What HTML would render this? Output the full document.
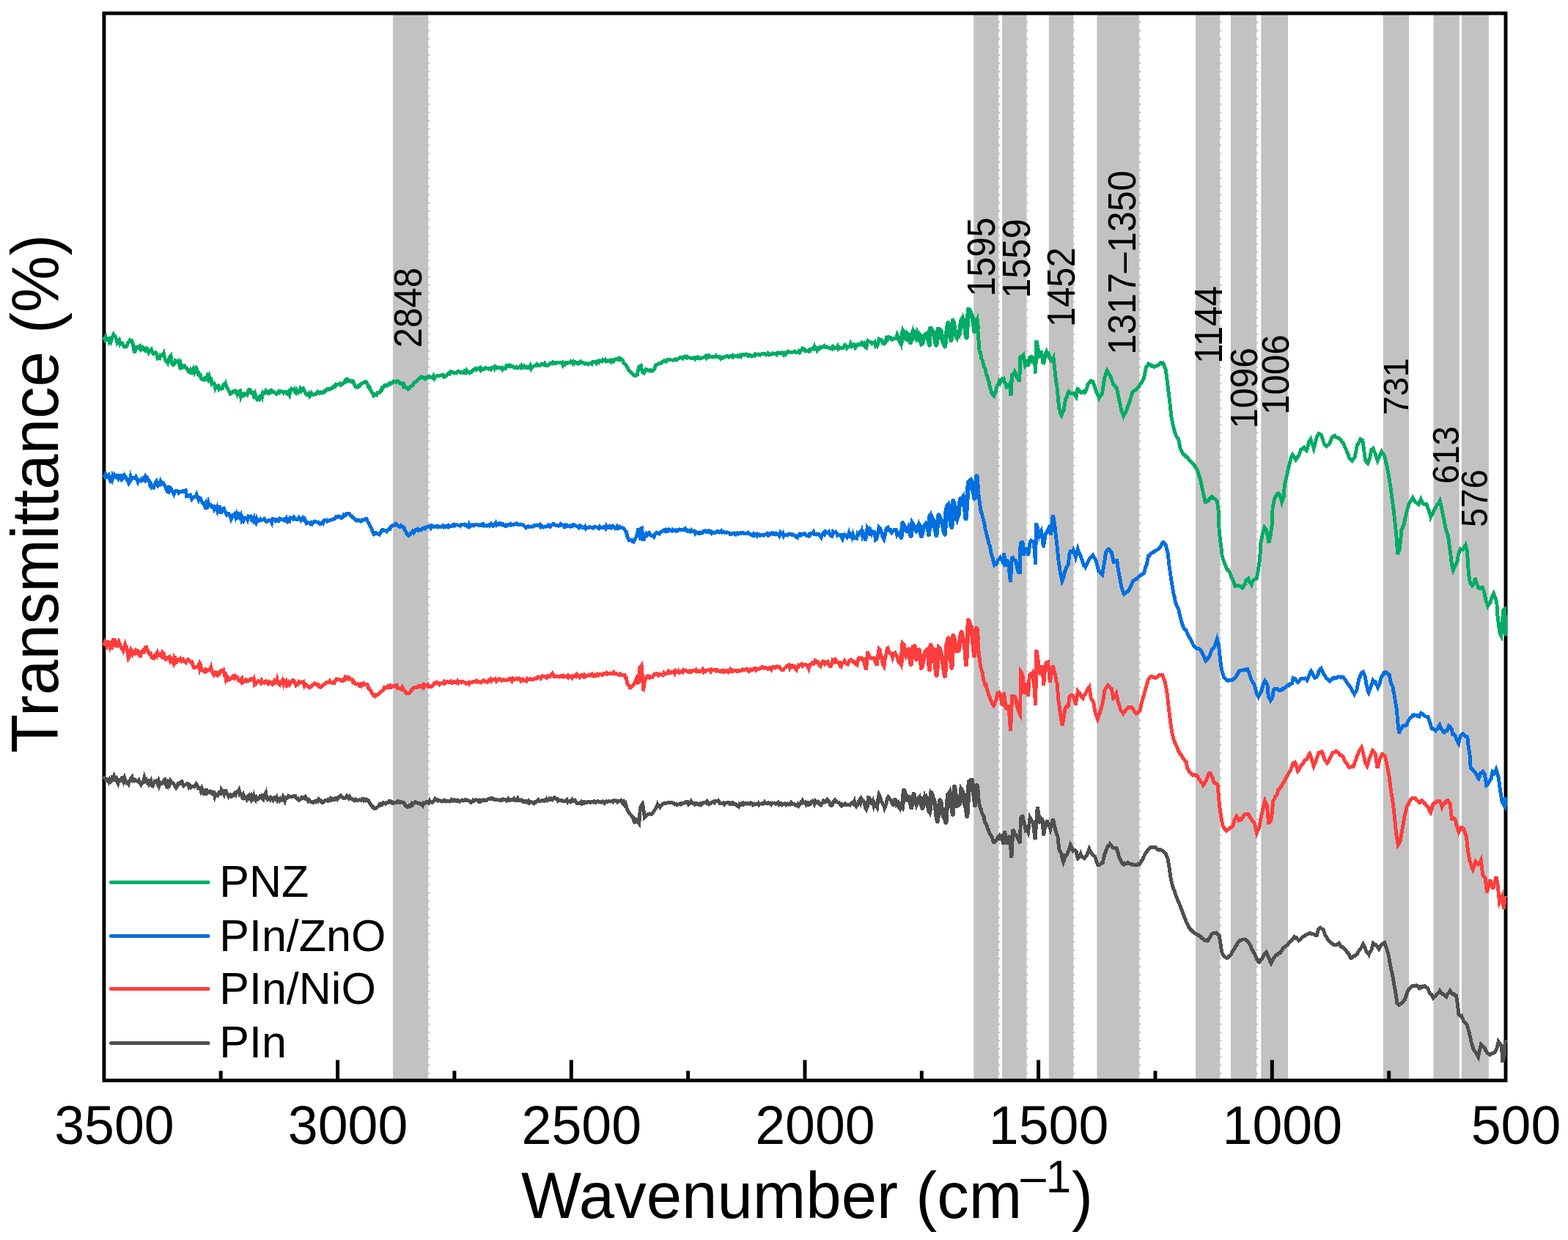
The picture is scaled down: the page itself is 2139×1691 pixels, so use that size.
<!DOCTYPE html>
<html lang="en">
<head>
<meta charset="utf-8">
<title>FTIR spectra</title>
<style>
html, body { margin: 0; padding: 0; background: #ffffff; }
body { width: 2139px; height: 1691px; overflow: hidden; }
svg { display: block; }
text { font-family: "Liberation Sans", sans-serif; fill: #000; }
.tick { font-size: 73.5px; }
.title { font-size: 87px; }
.leg { font-size: 61px; }
.bl { font-size: 47.2px; }
.curve { shape-rendering: crispEdges; fill: none; stroke-width: 4.9; stroke-linejoin: miter; stroke-miterlimit: 4; stroke-linecap: butt; }
</style>
</head>
<body>
<svg width="2139" height="1691" viewBox="0 0 2139 1691">
<rect x="0" y="0" width="2139" height="1691" fill="#ffffff"/>

<g fill="#c2c2c2">
<rect x="536.1" y="18.1" width="48.0" height="1455.3"/>
<rect x="1328.3" y="18.1" width="33.9" height="1455.3"/>
<rect x="1367.1" y="18.1" width="33.4" height="1455.3"/>
<rect x="1430.9" y="18.1" width="33.4" height="1455.3"/>
<rect x="1496.4" y="18.1" width="57.7" height="1455.3"/>
<rect x="1631.0" y="18.1" width="33.2" height="1455.3"/>
<rect x="1678.9" y="18.1" width="35.3" height="1455.3"/>
<rect x="1720.3" y="18.1" width="36.7" height="1455.3"/>
<rect x="1886.8" y="18.1" width="35.3" height="1455.3"/>
<rect x="1955.5" y="18.1" width="35.3" height="1455.3"/>
<rect x="1993.9" y="18.1" width="37.0" height="1455.3"/>
</g>
<g stroke="#c2c2c2" stroke-width="2" stroke-dasharray="2.4 8.8" fill="none">
<line x1="585.0" y1="29.1" x2="585.0" y2="1473.4"/>
<line x1="1363.1" y1="29.1" x2="1363.1" y2="1473.4"/>
<line x1="1401.4" y1="29.1" x2="1401.4" y2="1473.4"/>
<line x1="1465.2" y1="29.1" x2="1465.2" y2="1473.4"/>
<line x1="1555.0" y1="29.1" x2="1555.0" y2="1473.4"/>
<line x1="1665.1" y1="29.1" x2="1665.1" y2="1473.4"/>
<line x1="1715.1" y1="29.1" x2="1715.1" y2="1473.4"/>
</g>
<g stroke="#000" stroke-width="5" fill="none">
<line x1="1894.7" y1="1460.3" x2="1894.7" y2="1473.4"/>
<line x1="1735.3" y1="1445.5" x2="1735.3" y2="1473.4"/>
<line x1="1576.0" y1="1460.3" x2="1576.0" y2="1473.4"/>
<line x1="1416.6" y1="1445.5" x2="1416.6" y2="1473.4"/>
<line x1="1257.3" y1="1460.3" x2="1257.3" y2="1473.4"/>
<line x1="1098.0" y1="1445.5" x2="1098.0" y2="1473.4"/>
<line x1="938.6" y1="1460.3" x2="938.6" y2="1473.4"/>
<line x1="779.3" y1="1445.5" x2="779.3" y2="1473.4"/>
<line x1="619.9" y1="1460.3" x2="619.9" y2="1473.4"/>
<line x1="460.6" y1="1445.5" x2="460.6" y2="1473.4"/>
<line x1="301.2" y1="1460.3" x2="301.2" y2="1473.4"/>
</g>
<rect x="141.9" y="18.1" width="1912.1" height="1455.3" fill="none" stroke="#000" stroke-width="4.9"/>
<polyline class="curve" stroke="#4f4f4f" points="141.7,1058.3 142.9,1061.1 144.2,1063.1 145.5,1062.8 146.7,1064.2 148.1,1066.4 149.5,1063.1 150.9,1065.9 152.2,1064.2 153.5,1057.5 154.7,1065.5 156.0,1059.1 157.3,1061.9 158.5,1061.0 159.8,1065.9 161.0,1068.4 162.3,1063.6 163.6,1063.8 164.8,1064.4 166.1,1060.8 167.3,1060.5 168.6,1064.9 169.9,1060.9 171.1,1064.2 172.5,1067.7 173.9,1067.1 175.3,1069.2 176.5,1065.1 177.6,1064.6 178.7,1061.6 180.0,1059.7 181.2,1064.0 182.5,1063.0 183.8,1065.0 185.2,1064.0 186.6,1065.3 188.0,1065.9 189.4,1064.1 190.8,1068.0 192.2,1070.1 193.3,1067.8 194.4,1067.6 195.5,1065.9 196.9,1060.6 198.2,1064.9 199.6,1063.5 200.9,1067.1 202.3,1065.9 203.5,1069.3 204.6,1067.6 205.8,1065.2 207.0,1071.3 208.2,1071.8 209.6,1068.4 211.0,1065.5 212.4,1065.0 213.6,1064.8 214.9,1068.4 216.2,1065.2 217.4,1070.9 218.7,1067.5 219.9,1067.4 221.2,1068.3 222.5,1067.2 223.7,1064.4 225.0,1063.3 226.1,1066.1 227.2,1072.9 228.4,1073.4 229.8,1067.6 231.2,1069.9 232.6,1065.0 233.8,1067.2 235.1,1067.1 236.4,1068.4 237.6,1070.1 238.9,1072.4 240.1,1074.3 241.5,1072.2 242.9,1068.8 244.3,1069.2 245.5,1068.8 246.8,1066.0 248.0,1065.6 249.2,1069.6 250.4,1071.5 251.6,1070.2 252.8,1070.1 254.0,1069.6 255.3,1068.4 256.5,1069.1 257.8,1073.2 259.1,1071.5 260.3,1073.4 261.5,1072.3 262.7,1072.0 263.9,1072.6 265.0,1073.0 266.2,1070.9 267.6,1069.0 268.9,1071.1 270.3,1074.7 271.6,1073.9 273.0,1074.3 274.2,1078.5 275.5,1075.4 276.7,1078.5 278.0,1082.6 279.3,1082.5 280.5,1081.0 281.8,1075.9 283.1,1081.3 284.3,1080.5 285.6,1080.5 286.8,1078.9 288.1,1079.3 289.4,1082.3 290.6,1082.9 291.9,1079.0 293.2,1086.1 294.4,1083.1 295.7,1083.5 296.9,1084.6 298.2,1082.6 299.5,1078.5 300.7,1084.9 302.0,1076.8 303.3,1078.5 304.4,1079.8 305.6,1082.8 306.8,1078.4 308.0,1078.5 309.1,1080.2 310.5,1083.4 311.8,1086.0 313.2,1083.9 314.5,1083.5 315.9,1086.1 317.2,1085.2 318.6,1084.6 319.9,1082.2 321.3,1083.8 322.6,1080.2 323.8,1079.4 325.0,1080.3 326.1,1077.8 327.3,1083.6 328.5,1082.7 329.8,1083.3 331.2,1090.0 332.5,1084.8 333.9,1088.4 335.2,1087.7 336.4,1089.8 337.6,1086.2 338.8,1085.3 339.9,1091.4 341.1,1086.9 342.4,1089.8 343.6,1085.8 344.9,1088.5 346.2,1085.1 347.4,1089.3 348.7,1091.1 350.0,1087.9 351.2,1090.2 352.5,1089.9 353.7,1088.6 355.0,1085.2 356.3,1084.9 357.5,1089.0 358.8,1090.2 360.1,1084.5 361.3,1084.4 362.6,1081.5 363.8,1088.6 365.1,1090.3 366.4,1089.4 367.6,1088.3 368.8,1090.3 370.0,1088.2 371.2,1089.4 372.4,1090.8 373.6,1087.9 374.8,1087.7 376.0,1089.4 377.3,1087.3 378.6,1091.4 379.8,1089.8 381.1,1091.6 382.4,1089.4 383.6,1091.3 384.8,1091.0 386.0,1087.3 387.2,1090.3 388.4,1092.4 389.6,1088.0 390.8,1088.6 392.1,1088.3 393.5,1085.6 394.8,1086.2 396.2,1086.1 397.5,1086.9 398.8,1086.7 400.0,1085.8 401.3,1085.2 402.6,1085.2 403.8,1088.1 405.1,1089.3 406.3,1088.6 407.6,1091.1 408.9,1090.0 410.1,1089.8 411.4,1087.7 412.7,1088.6 414.0,1087.9 415.3,1088.7 416.7,1086.8 418.0,1089.6 419.4,1089.4 420.6,1092.2 421.7,1091.1 422.9,1092.6 424.1,1093.1 425.3,1093.6 426.6,1094.6 428.0,1094.2 429.3,1092.9 430.7,1093.7 432.0,1092.0 433.4,1092.8 434.8,1089.7 436.2,1091.1 437.6,1091.4 439.0,1094.2 440.4,1094.5 441.8,1093.4 443.2,1091.5 444.6,1091.1 445.9,1091.8 447.2,1090.6 448.4,1092.1 449.7,1091.9 450.9,1089.1 452.2,1090.7 453.5,1089.4 454.7,1090.3 456.1,1090.3 457.4,1088.3 458.8,1088.5 460.1,1089.9 461.5,1087.7 462.6,1086.5 463.7,1086.3 464.8,1085.2 466.2,1087.0 467.6,1087.6 469.0,1088.6 470.4,1088.3 471.8,1087.1 473.2,1085.2 474.6,1086.9 475.9,1088.9 477.3,1086.7 478.6,1089.0 480.0,1089.4 481.2,1090.5 482.5,1090.4 483.8,1091.6 485.0,1090.3 486.3,1091.8 487.5,1092.0 488.8,1091.0 490.1,1090.6 491.3,1091.1 492.6,1091.3 493.9,1089.4 495.1,1089.4 496.5,1091.6 497.9,1090.4 499.3,1091.4 500.0,1090.3 501.3,1091.2 502.5,1091.2 503.8,1094.0 505.0,1096.2 506.3,1097.9 507.6,1100.1 508.8,1099.9 510.1,1102.1 511.4,1102.1 512.6,1102.3 513.9,1101.4 515.1,1100.4 516.4,1099.2 517.7,1097.0 518.9,1098.0 520.2,1096.2 521.5,1096.8 522.9,1094.6 524.2,1095.1 525.6,1096.2 526.9,1095.3 528.2,1094.1 529.5,1094.3 530.7,1092.7 532.0,1092.5 533.3,1094.0 534.7,1093.5 536.0,1095.5 537.4,1094.9 538.7,1094.5 540.0,1094.8 541.2,1094.4 542.5,1092.6 543.8,1092.5 545.1,1094.4 546.5,1094.2 547.8,1093.5 549.1,1094.5 550.5,1094.5 551.8,1096.0 553.0,1098.6 554.3,1099.0 555.5,1100.4 556.8,1100.6 558.1,1098.7 559.3,1099.7 560.6,1098.7 561.8,1096.2 562.9,1097.4 564.1,1095.6 565.3,1094.4 566.5,1093.6 567.7,1093.9 569.0,1094.7 570.3,1095.8 571.5,1095.9 572.8,1095.6 574.1,1097.0 575.3,1097.3 576.5,1098.4 577.7,1095.3 578.9,1095.9 580.1,1095.0 581.3,1093.7 582.5,1094.5 583.7,1093.6 584.9,1094.9 586.1,1092.1 587.3,1093.8 588.5,1093.5 589.7,1094.4 590.9,1093.1 592.1,1092.4 593.4,1089.6 594.7,1090.7 595.9,1090.3 597.2,1092.1 598.5,1091.8 599.7,1091.5 601.0,1092.5 602.2,1092.8 603.5,1093.2 604.8,1092.7 606.0,1091.4 607.3,1092.4 608.6,1093.0 609.8,1092.0 611.1,1092.8 612.3,1092.4 613.5,1093.0 614.7,1092.2 615.9,1090.4 617.1,1091.3 618.3,1092.1 619.5,1090.8 620.7,1091.0 621.9,1092.2 623.1,1092.5 624.3,1091.4 625.5,1092.4 626.7,1093.3 627.9,1092.5 629.1,1091.9 630.3,1091.1 631.5,1091.9 632.7,1091.3 633.9,1091.7 635.1,1090.4 636.3,1090.8 637.6,1091.6 638.8,1091.7 640.1,1092.5 641.4,1093.6 642.7,1094.4 644.1,1093.2 645.4,1091.4 646.8,1092.4 648.1,1091.4 649.3,1090.6 650.5,1090.8 651.7,1091.3 652.9,1092.9 654.1,1091.6 655.3,1093.0 656.5,1092.5 657.7,1091.2 658.9,1091.8 660.1,1091.0 661.3,1091.6 662.5,1091.0 663.7,1091.2 664.9,1090.3 666.1,1089.6 667.3,1089.8 668.5,1089.2 669.7,1088.6 670.9,1089.5 672.1,1088.7 673.4,1089.1 674.6,1090.4 675.9,1090.4 677.1,1090.0 678.4,1090.3 679.7,1091.0 680.9,1091.1 682.2,1091.1 683.5,1090.5 684.7,1091.4 686.0,1090.0 687.2,1090.7 688.5,1090.8 689.8,1090.8 691.0,1092.2 692.3,1091.7 693.5,1089.6 694.8,1091.4 696.1,1091.4 697.3,1090.6 698.6,1091.1 699.9,1090.8 701.1,1089.1 702.4,1091.3 703.6,1091.4 704.9,1091.7 706.2,1089.3 707.4,1091.7 708.7,1091.4 710.0,1091.7 711.2,1090.8 712.5,1091.6 713.7,1093.5 715.0,1093.1 716.3,1092.5 717.5,1093.8 718.8,1093.1 720.0,1094.4 721.2,1092.7 722.4,1094.9 723.6,1093.6 724.8,1093.4 726.0,1094.3 727.2,1094.5 728.4,1095.6 729.6,1093.6 730.8,1094.0 732.0,1093.0 733.2,1092.0 734.4,1090.9 735.6,1092.5 736.8,1092.2 738.0,1092.3 739.2,1091.6 740.4,1091.8 741.6,1091.9 742.8,1092.4 744.0,1091.4 745.4,1089.6 746.7,1091.5 748.1,1090.6 749.4,1089.1 750.8,1090.3 752.2,1088.9 753.6,1090.3 755.0,1088.6 756.2,1087.6 757.5,1088.2 758.8,1089.6 760.0,1089.5 761.3,1092.0 762.6,1091.1 763.8,1091.8 765.0,1091.1 766.2,1091.3 767.4,1092.5 768.6,1092.5 769.8,1092.2 771.0,1092.8 772.2,1092.5 773.4,1090.9 774.6,1093.7 775.8,1092.2 777.0,1092.2 778.2,1093.4 779.4,1092.0 780.6,1090.3 781.9,1092.9 783.2,1093.0 784.4,1091.7 785.7,1093.7 787.0,1095.6 788.2,1095.7 789.5,1095.3 790.7,1094.7 791.9,1095.5 793.1,1093.6 794.3,1095.6 795.5,1094.2 796.7,1095.3 797.9,1093.6 799.2,1094.1 800.4,1094.7 801.7,1093.2 802.9,1093.3 804.2,1093.4 805.5,1094.3 806.7,1093.0 808.0,1093.1 809.3,1094.0 810.6,1092.8 811.9,1094.2 813.2,1094.1 814.5,1093.2 815.8,1092.6 817.2,1093.7 818.5,1094.2 819.8,1093.6 821.0,1094.1 822.3,1092.7 823.6,1093.4 824.8,1095.2 826.1,1094.0 827.3,1092.9 828.6,1093.4 829.9,1092.8 831.1,1092.8 832.4,1093.2 833.7,1093.0 834.9,1092.2 836.2,1093.2 837.4,1091.4 838.7,1091.4 840.0,1092.5 841.2,1092.0 842.4,1093.6 843.6,1092.4 844.8,1092.0 846.0,1092.4 847.2,1091.4 848.4,1093.1 849.6,1095.3 850.9,1093.6 852.2,1097.5 853.4,1096.2 854.7,1101.0 856.0,1104.6 857.1,1106.5 858.2,1108.5 859.3,1110.0 860.0,1110.5 861.1,1111.7 862.2,1113.0 863.4,1114.7 864.6,1119.7 865.9,1121.4 867.0,1121.0 868.1,1117.5 869.3,1118.0 870.5,1121.5 871.8,1123.1 873.5,1101.2 875.0,1098.3 876.5,1096.2 877.9,1104.0 879.4,1114.7 880.8,1113.6 882.2,1110.9 883.6,1110.5 884.7,1110.5 885.9,1109.9 887.1,1110.0 888.3,1110.4 889.5,1109.6 890.9,1108.0 892.3,1105.9 893.7,1103.7 894.8,1101.6 895.9,1100.4 897.0,1097.0 898.1,1099.1 899.3,1098.7 900.4,1100.4 901.7,1098.3 902.9,1098.0 904.2,1095.9 905.4,1095.3 906.7,1095.8 908.0,1095.0 909.2,1095.1 910.5,1094.9 911.8,1094.3 913.0,1094.1 914.3,1094.6 915.5,1094.5 916.9,1094.4 918.2,1095.5 919.5,1095.6 920.8,1097.0 922.2,1096.6 923.5,1097.9 924.8,1097.0 926.1,1096.9 927.4,1096.2 928.8,1097.2 930.1,1095.3 931.4,1095.4 932.7,1095.5 934.1,1094.8 935.3,1093.5 936.6,1094.3 937.8,1093.8 939.1,1096.4 940.4,1094.5 941.6,1095.0 942.9,1092.7 944.2,1094.5 945.4,1095.2 946.7,1095.1 947.9,1097.2 949.2,1096.9 950.5,1095.8 951.7,1097.0 953.0,1097.3 954.4,1096.1 955.7,1097.9 957.0,1096.9 958.3,1095.0 959.7,1094.6 961.0,1094.5 962.2,1093.9 963.4,1094.8 964.6,1093.0 965.8,1094.5 967.0,1096.6 968.2,1095.7 969.4,1095.8 970.7,1094.0 972.0,1093.8 973.4,1093.2 974.7,1094.6 976.0,1092.3 977.3,1092.2 978.7,1092.5 979.8,1091.7 981.0,1093.6 982.2,1095.8 983.4,1095.8 984.5,1095.8 985.8,1095.8 987.1,1095.0 988.3,1096.8 989.6,1095.1 990.9,1094.6 992.1,1094.9 993.4,1094.7 994.6,1094.8 995.8,1096.7 997.0,1096.5 998.2,1094.7 999.5,1094.5 1000.7,1096.3 1001.9,1096.4 1003.1,1096.2 1004.2,1097.9 1005.3,1098.7 1006.4,1099.2 1007.7,1100.2 1008.9,1096.6 1010.2,1097.3 1011.5,1095.8 1012.7,1096.7 1014.0,1095.0 1015.3,1096.6 1016.5,1095.7 1017.8,1095.6 1019.0,1096.4 1020.3,1095.5 1021.6,1096.2 1022.9,1096.1 1024.3,1094.7 1025.6,1095.7 1027.0,1097.6 1028.3,1097.0 1029.5,1096.1 1030.8,1097.0 1032.0,1096.8 1033.2,1096.9 1034.4,1095.4 1035.6,1097.5 1036.9,1096.0 1038.1,1096.0 1039.3,1095.9 1040.5,1096.4 1041.8,1095.8 1043.1,1093.8 1044.4,1095.6 1045.7,1095.4 1047.0,1095.9 1048.3,1094.7 1049.6,1095.2 1050.9,1095.0 1052.2,1097.0 1053.5,1095.3 1054.9,1094.9 1056.2,1095.1 1057.5,1095.6 1058.8,1096.6 1060.1,1095.3 1061.4,1094.3 1062.7,1097.1 1064.0,1095.9 1065.3,1095.8 1066.7,1097.4 1068.0,1096.2 1069.4,1096.4 1070.7,1095.8 1072.1,1097.5 1073.3,1096.7 1074.5,1096.1 1075.7,1097.2 1076.9,1096.4 1078.1,1097.0 1079.3,1094.9 1080.5,1096.5 1081.8,1095.9 1083.2,1096.4 1084.5,1097.4 1085.9,1098.7 1087.2,1098.7 1088.5,1096.7 1089.7,1098.8 1091.0,1097.0 1092.3,1094.5 1093.5,1095.1 1094.7,1092.3 1095.9,1095.0 1097.1,1095.0 1098.3,1094.2 1099.5,1096.7 1100.7,1094.5 1101.8,1094.5 1102.9,1097.6 1104.0,1097.5 1105.2,1096.7 1106.3,1094.8 1107.4,1093.1 1108.6,1092.3 1109.8,1093.2 1111.0,1096.0 1112.2,1092.7 1113.4,1094.3 1114.6,1093.3 1115.8,1093.1 1117.2,1096.1 1118.6,1095.5 1120.0,1097.5 1121.2,1095.5 1122.3,1094.7 1123.4,1092.0 1124.7,1092.7 1125.9,1093.9 1127.2,1093.1 1128.4,1090.6 1129.7,1092.0 1131.0,1093.1 1132.1,1096.3 1133.2,1098.4 1134.3,1098.7 1135.5,1097.6 1136.6,1094.2 1137.7,1092.5 1139.0,1090.9 1140.4,1093.2 1141.7,1093.3 1143.1,1094.3 1144.4,1094.5 1145.6,1095.4 1146.7,1097.9 1147.8,1098.7 1149.1,1096.7 1150.3,1097.2 1151.6,1097.2 1152.8,1096.2 1154.1,1097.8 1155.4,1097.6 1156.6,1097.5 1157.9,1097.5 1159.2,1098.1 1160.4,1096.3 1161.7,1094.9 1162.9,1094.5 1164.2,1096.1 1165.5,1092.9 1166.7,1098.1 1168.0,1099.5 1169.1,1097.1 1170.2,1097.1 1171.4,1093.1 1172.7,1090.7 1174.1,1094.3 1175.4,1089.6 1176.7,1091.9 1178.1,1092.5 1179.3,1095.3 1180.6,1101.8 1181.8,1103.7 1183.1,1100.3 1184.5,1087.7 1185.7,1088.0 1187.0,1089.9 1188.2,1095.3 1189.5,1095.6 1190.7,1092.8 1192.0,1098.7 1193.2,1095.3 1194.4,1097.5 1195.5,1098.1 1196.6,1100.4 1197.9,1089.4 1199.1,1083.5 1200.5,1086.3 1201.9,1092.1 1203.3,1094.5 1204.5,1097.0 1205.6,1098.0 1206.7,1102.1 1208.0,1099.0 1209.2,1095.3 1210.5,1088.8 1211.8,1086.9 1213.2,1088.6 1214.6,1090.2 1216.0,1092.8 1217.1,1096.0 1218.2,1097.3 1219.3,1095.3 1220.0,1090.5 1221.3,1090.4 1222.5,1096.5 1223.8,1094.6 1225.0,1093.9 1226.2,1099.8 1227.4,1101.8 1228.6,1096.0 1229.8,1101.3 1230.9,1102.3 1232.0,1088.5 1233.1,1077.9 1234.4,1081.9 1235.6,1084.2 1236.8,1090.5 1238.0,1090.7 1239.1,1087.1 1240.2,1087.1 1241.7,1091.6 1243.2,1101.4 1244.3,1090.8 1245.5,1088.0 1246.6,1082.9 1247.8,1089.1 1249.1,1091.4 1250.3,1097.2 1251.7,1092.9 1253.1,1089.3 1254.5,1087.1 1255.8,1091.9 1257.1,1097.9 1258.4,1102.3 1259.8,1093.0 1261.2,1087.1 1262.6,1092.0 1264.0,1088.2 1265.4,1092.2 1266.9,1104.4 1268.3,1107.3 1270.0,1081.2 1271.3,1082.8 1272.6,1088.1 1273.9,1090.5 1275.1,1094.3 1276.4,1102.7 1277.6,1113.6 1278.9,1120.0 1280.0,1107.9 1281.2,1104.5 1282.3,1091.3 1283.7,1095.6 1285.1,1106.9 1286.5,1110.7 1287.8,1115.3 1289.1,1116.4 1290.4,1121.6 1291.8,1098.1 1293.2,1083.8 1294.5,1083.2 1295.7,1080.4 1297.1,1092.0 1298.5,1101.2 1299.9,1110.7 1301.0,1091.5 1302.0,1072.8 1303.3,1081.6 1304.5,1092.3 1305.8,1098.9 1307.0,1098.2 1308.1,1097.1 1309.2,1095.6 1310.2,1090.1 1311.2,1076.2 1312.5,1078.4 1313.8,1082.7 1315.1,1083.8 1316.5,1098.2 1317.9,1103.0 1319.3,1113.2 1320.6,1090.1 1321.8,1066.1 1323.2,1065.4 1324.6,1063.6 1326.0,1063.6 1327.4,1078.9 1328.8,1086.1 1330.2,1098.1 1331.5,1083.4 1332.8,1071.1 1333.9,1075.2 1335.0,1089.9 1336.1,1097.2 1337.3,1102.6 1338.4,1103.5 1339.5,1109.0 1340.8,1111.4 1342.0,1112.6 1343.3,1121.0 1344.5,1122.5 1345.8,1124.7 1347.1,1129.4 1348.3,1131.4 1349.6,1136.0 1350.9,1137.8 1352.3,1140.2 1353.6,1142.2 1355.0,1148.3 1356.3,1148.6 1357.6,1147.9 1358.8,1146.7 1360.1,1144.9 1361.4,1141.9 1362.6,1143.0 1363.9,1140.1 1365.2,1142.4 1366.4,1141.0 1367.7,1147.0 1368.9,1152.0 1370.6,1133.4 1371.8,1139.8 1372.9,1144.5 1374.0,1151.1 1375.1,1145.6 1376.2,1142.2 1377.4,1139.3 1378.6,1154.3 1379.9,1169.6 1380.9,1149.9 1381.9,1130.9 1383.1,1133.9 1384.3,1137.2 1385.4,1137.8 1386.6,1139.3 1387.8,1142.1 1389.0,1144.6 1390.2,1145.2 1391.3,1150.3 1392.5,1115.8 1393.8,1113.5 1395.0,1113.2 1396.4,1119.9 1397.8,1123.9 1399.2,1131.8 1400.4,1130.4 1401.5,1131.5 1402.6,1134.3 1403.9,1124.5 1405.1,1114.9 1406.5,1117.1 1407.9,1119.7 1409.3,1122.5 1410.8,1135.0 1412.2,1145.2 1413.7,1121.3 1415.2,1100.6 1416.4,1107.5 1417.5,1113.3 1418.6,1120.8 1419.7,1120.3 1420.8,1116.4 1422.0,1117.4 1423.6,1139.3 1424.9,1131.4 1426.2,1123.3 1427.3,1121.7 1428.4,1124.1 1429.5,1122.5 1430.7,1125.9 1431.8,1127.2 1432.9,1130.9 1434.1,1126.1 1435.4,1120.5 1436.6,1116.6 1438.1,1124.4 1439.6,1130.9 1440.8,1135.6 1441.9,1138.4 1443.0,1141.0 1444.7,1157.8 1445.8,1160.8 1446.9,1161.9 1448.1,1164.6 1449.3,1171.7 1450.6,1175.5 1452.0,1171.4 1453.4,1166.6 1454.8,1166.3 1455.9,1164.7 1457.0,1161.8 1458.1,1159.5 1459.2,1155.6 1460.3,1152.0 1461.6,1154.2 1462.8,1157.7 1464.0,1160.4 1465.4,1159.3 1466.8,1159.6 1468.2,1161.2 1469.3,1167.5 1470.3,1170.5 1471.6,1169.4 1472.8,1167.3 1474.1,1164.6 1475.4,1168.2 1476.7,1168.5 1477.9,1169.6 1479.2,1170.5 1480.3,1169.1 1481.4,1167.4 1482.6,1166.3 1483.7,1163.4 1484.8,1160.8 1485.9,1157.8 1487.0,1160.5 1488.2,1162.2 1489.3,1164.6 1490.7,1165.5 1492.1,1166.7 1493.5,1167.9 1494.9,1171.4 1496.3,1176.3 1497.7,1179.7 1499.0,1179.7 1500.4,1179.1 1501.7,1177.9 1503.1,1176.7 1504.4,1176.4 1505.7,1169.9 1507.0,1164.6 1508.1,1162.8 1509.2,1159.0 1510.3,1156.2 1511.6,1153.5 1512.9,1153.3 1514.2,1151.1 1515.3,1152.9 1516.5,1153.8 1517.6,1155.4 1518.7,1156.2 1520.1,1156.6 1521.5,1156.0 1522.9,1156.2 1524.1,1159.8 1525.2,1163.1 1526.3,1167.9 1527.6,1170.9 1528.8,1173.6 1530.1,1175.2 1531.4,1178.0 1532.6,1178.8 1533.8,1177.2 1535.0,1178.1 1536.2,1177.7 1537.4,1177.7 1538.6,1176.2 1539.8,1177.2 1541.0,1177.6 1542.2,1178.7 1543.4,1179.1 1544.6,1178.6 1545.8,1179.4 1547.0,1179.6 1548.2,1179.7 1549.4,1179.5 1550.5,1179.9 1551.7,1179.8 1552.9,1178.2 1554.1,1178.9 1555.5,1177.0 1556.9,1174.5 1558.3,1173.0 1559.6,1169.7 1560.8,1167.5 1562.1,1164.6 1563.3,1162.9 1564.6,1161.1 1565.9,1158.9 1567.1,1157.9 1568.4,1156.2 1569.7,1155.4 1571.1,1155.9 1572.4,1155.8 1573.8,1155.6 1575.1,1155.3 1576.5,1155.5 1577.9,1157.6 1579.3,1158.4 1581.0,1159.3 1582.3,1158.4 1583.5,1159.1 1584.7,1159.9 1585.9,1160.0 1587.3,1161.6 1588.8,1162.8 1590.2,1164.2 1591.6,1167.9 1593.0,1170.5 1594.0,1177.3 1595.1,1183.1 1596.1,1190.6 1597.2,1198.5 1598.6,1203.9 1600.0,1209.8 1601.1,1212.5 1602.3,1215.5 1603.5,1219.6 1604.9,1223.1 1606.3,1226.7 1607.7,1229.4 1608.9,1232.5 1610.0,1235.7 1611.2,1239.2 1612.4,1241.7 1613.5,1245.0 1614.7,1247.6 1615.9,1250.9 1617.0,1253.1 1618.2,1257.4 1619.4,1259.6 1620.5,1261.2 1621.7,1264.4 1623.1,1265.6 1624.5,1268.3 1625.9,1268.7 1627.3,1270.9 1628.7,1271.9 1630.1,1272.9 1631.5,1273.3 1632.9,1274.1 1634.3,1275.2 1635.7,1275.7 1637.1,1277.5 1638.5,1277.6 1639.9,1279.9 1641.1,1280.4 1642.3,1281.6 1643.5,1282.7 1644.7,1282.3 1645.9,1282.9 1647.1,1281.6 1648.4,1282.0 1649.5,1279.2 1650.7,1278.4 1651.9,1275.7 1653.3,1273.5 1654.7,1272.9 1655.9,1272.8 1657.1,1272.5 1658.4,1272.9 1659.6,1272.2 1660.7,1273.3 1661.9,1275.0 1663.1,1275.7 1664.1,1281.6 1665.2,1288.3 1666.6,1298.1 1668.0,1301.1 1669.4,1303.7 1670.8,1304.4 1672.2,1305.7 1673.6,1306.5 1675.0,1306.1 1676.4,1303.9 1677.8,1303.7 1679.2,1302.1 1680.6,1298.3 1682.0,1296.7 1683.4,1294.4 1684.8,1291.8 1686.2,1289.7 1687.4,1288.3 1688.6,1285.4 1689.7,1284.1 1691.0,1282.9 1692.2,1282.9 1693.4,1281.9 1694.6,1281.3 1696.0,1281.0 1697.4,1280.9 1698.8,1281.3 1700.1,1282.2 1701.3,1283.7 1702.5,1284.2 1703.8,1285.5 1704.9,1288.1 1706.1,1290.0 1707.3,1293.9 1708.7,1295.9 1710.1,1299.0 1711.5,1300.9 1712.9,1304.1 1714.3,1307.9 1715.4,1308.6 1716.6,1311.6 1717.8,1312.1 1719.0,1310.6 1720.1,1309.3 1721.3,1307.9 1722.5,1305.5 1723.6,1303.6 1724.8,1300.9 1726.2,1300.3 1727.6,1298.8 1729.0,1302.1 1730.4,1305.1 1731.6,1307.4 1732.7,1311.5 1733.9,1313.5 1735.1,1311.2 1736.3,1308.6 1737.4,1306.5 1738.8,1305.1 1740.2,1302.8 1741.6,1302.3 1742.9,1301.7 1744.1,1300.1 1745.3,1299.7 1746.5,1299.5 1747.9,1297.3 1749.3,1295.0 1750.7,1292.5 1752.1,1291.9 1753.5,1290.6 1755.0,1289.5 1756.4,1288.3 1757.8,1286.5 1759.2,1284.9 1760.6,1283.7 1762.0,1282.7 1763.1,1281.0 1764.3,1279.8 1765.5,1277.8 1766.9,1279.1 1768.3,1278.5 1769.4,1280.1 1770.6,1281.0 1771.8,1282.7 1773.2,1281.7 1774.6,1280.1 1776.0,1278.5 1777.4,1277.6 1778.8,1277.1 1780.2,1276.0 1781.6,1275.0 1783.0,1274.5 1784.4,1273.5 1785.8,1272.6 1787.2,1272.2 1788.6,1273.8 1790.0,1273.9 1791.4,1273.7 1792.8,1274.3 1794.0,1274.9 1795.2,1275.7 1796.3,1275.7 1797.4,1272.0 1798.4,1267.2 1799.8,1266.2 1801.2,1265.1 1802.4,1266.0 1803.6,1267.1 1804.7,1267.2 1806.1,1270.1 1807.5,1274.3 1808.7,1277.2 1809.9,1278.3 1811.1,1281.3 1812.5,1282.3 1813.9,1284.1 1815.3,1285.5 1816.7,1286.7 1818.1,1287.2 1819.5,1289.0 1820.9,1289.0 1822.3,1288.4 1823.7,1288.3 1825.1,1287.3 1826.5,1286.2 1827.9,1288.5 1829.3,1291.1 1830.7,1291.2 1832.1,1292.0 1833.5,1293.9 1834.9,1295.2 1836.3,1296.3 1837.7,1298.6 1839.1,1299.5 1840.3,1301.5 1841.4,1304.4 1842.6,1306.5 1843.8,1306.3 1845.1,1305.5 1846.3,1304.1 1847.5,1303.7 1848.9,1303.4 1850.3,1301.7 1851.7,1300.9 1853.1,1297.4 1854.5,1295.9 1855.9,1293.9 1857.1,1292.0 1858.3,1289.4 1859.4,1287.6 1860.8,1290.5 1862.2,1292.9 1863.6,1296.5 1864.8,1299.0 1866.0,1299.5 1867.3,1301.7 1868.5,1298.3 1869.7,1297.6 1871.0,1295.1 1872.1,1290.9 1873.2,1286.2 1874.4,1287.0 1875.7,1288.1 1876.9,1288.4 1878.3,1290.3 1879.6,1292.2 1881.0,1294.3 1882.4,1291.7 1883.7,1289.6 1885.0,1287.7 1886.3,1287.4 1887.5,1286.0 1888.7,1285.4 1890.2,1290.0 1891.7,1293.6 1893.2,1299.1 1894.6,1303.9 1895.7,1311.3 1896.9,1317.2 1898.3,1324.4 1899.8,1330.5 1900.9,1337.2 1902.0,1343.8 1903.1,1349.8 1904.2,1355.7 1905.7,1367.5 1907.2,1369.2 1908.7,1370.4 1909.8,1369.7 1910.9,1368.9 1912.0,1367.6 1913.1,1366.8 1914.3,1365.5 1915.6,1363.6 1916.8,1363.1 1917.9,1358.9 1919.0,1355.7 1920.1,1352.3 1921.2,1349.8 1922.5,1348.5 1923.8,1346.7 1925.1,1345.7 1926.4,1344.6 1927.7,1344.6 1929.0,1344.5 1930.3,1344.7 1931.6,1343.8 1932.8,1344.1 1934.0,1344.8 1935.1,1345.4 1936.3,1347.8 1937.5,1347.5 1938.7,1345.9 1939.9,1346.4 1941.1,1345.0 1942.2,1345.2 1943.4,1344.6 1944.5,1345.3 1945.6,1346.6 1946.8,1347.1 1947.9,1348.3 1949.1,1351.2 1950.3,1354.2 1951.6,1355.7 1952.8,1356.2 1954.0,1358.1 1955.3,1360.8 1956.6,1359.7 1957.8,1359.0 1959.1,1357.2 1960.4,1355.7 1961.7,1353.9 1962.9,1353.5 1964.1,1351.2 1965.2,1352.8 1966.3,1354.1 1967.5,1355.6 1968.6,1355.7 1969.7,1356.8 1970.8,1357.2 1971.9,1358.5 1973.0,1359.4 1974.3,1356.2 1975.6,1354.8 1976.9,1353.8 1978.2,1351.2 1979.4,1352.9 1980.6,1354.6 1981.9,1355.7 1983.0,1356.1 1984.1,1355.7 1985.2,1356.9 1986.3,1357.1 1987.4,1363.0 1988.5,1370.4 1990.0,1383.8 1991.2,1384.3 1992.5,1385.5 1993.7,1385.2 1995.2,1389.1 1996.7,1392.6 1997.8,1393.7 1998.9,1394.8 2000.0,1396.0 2001.1,1397.1 2002.6,1402.7 2004.1,1407.4 2005.5,1414.1 2007.0,1420.7 2008.5,1425.7 2010.0,1431.1 2011.2,1433.0 2012.4,1433.8 2013.7,1435.5 2015.1,1438.6 2016.6,1441.4 2017.9,1434.6 2019.1,1430.1 2020.3,1424.4 2021.6,1425.6 2022.9,1427.2 2024.2,1428.3 2025.5,1429.6 2027.0,1433.1 2028.5,1435.5 2029.6,1436.4 2030.7,1437.3 2031.8,1438.1 2032.9,1438.5 2034.1,1437.1 2035.3,1436.8 2036.4,1436.5 2037.6,1436.0 2038.8,1435.5 2040.3,1432.6 2041.8,1429.6 2042.9,1425.3 2044.0,1420.7 2045.1,1422.7 2046.2,1423.3 2047.3,1425.1 2048.4,1426.6 2049.9,1448.8 2051.0,1443.5 2052.1,1439.9 2053.3,1417.8"/>
<polyline class="curve" stroke="#4f4f4f" style="stroke-width:6.2;stroke-linejoin:round" points="1225.0,1093.9 1226.2,1099.8 1227.4,1101.8 1228.6,1096.0 1229.8,1101.3 1230.9,1102.3 1232.0,1088.5 1233.1,1077.9 1234.4,1081.9 1235.6,1084.2 1236.8,1090.5 1238.0,1090.7 1239.1,1087.1 1240.2,1087.1 1241.7,1091.6 1243.2,1101.4 1244.3,1090.8 1245.5,1088.0 1246.6,1082.9 1247.8,1089.1 1249.1,1091.4 1250.3,1097.2 1251.7,1092.9 1253.1,1089.3 1254.5,1087.1 1255.8,1091.9 1257.1,1097.9 1258.4,1102.3 1259.8,1093.0 1261.2,1087.1 1262.6,1092.0 1264.0,1088.2 1265.4,1092.2 1266.9,1104.4 1268.3,1107.3 1270.0,1081.2 1271.3,1082.8 1272.6,1088.1 1273.9,1090.5 1275.1,1094.3 1276.4,1102.7 1277.6,1113.6 1278.9,1120.0 1280.0,1107.9 1281.2,1104.5 1282.3,1091.3 1283.7,1095.6 1285.1,1106.9 1286.5,1110.7 1287.8,1115.3 1289.1,1116.4 1290.4,1121.6 1291.8,1098.1 1293.2,1083.8 1294.5,1083.2 1295.7,1080.4 1297.1,1092.0 1298.5,1101.2 1299.9,1110.7 1301.0,1091.5 1302.0,1072.8 1303.3,1081.6 1304.5,1092.3 1305.8,1098.9 1307.0,1098.2 1308.1,1097.1 1309.2,1095.6 1310.2,1090.1 1311.2,1076.2 1312.5,1078.4 1313.8,1082.7 1315.1,1083.8 1316.5,1098.2 1317.9,1103.0 1319.3,1113.2 1320.6,1090.1 1321.8,1066.1 1323.2,1065.4 1324.6,1063.6 1326.0,1063.6 1327.4,1078.9 1328.8,1086.1 1330.2,1098.1 1331.5,1083.4 1332.8,1071.1 1333.9,1075.2"/>
<polyline class="curve" stroke="#ff3d3d" points="141.7,880.8 142.9,876.6 144.0,879.0 145.2,880.8 146.4,873.5 147.6,878.3 148.8,877.4 150.1,882.5 151.4,879.6 152.6,885.9 153.7,877.3 154.8,870.7 156.0,875.2 157.3,874.6 158.5,880.8 159.8,881.0 161.0,880.0 162.3,875.8 163.6,879.1 164.7,882.2 165.8,884.2 166.9,884.2 168.1,887.0 169.3,883.3 170.5,879.1 171.6,882.6 172.8,882.5 174.1,890.2 175.3,897.6 176.5,895.6 177.6,889.9 178.7,885.9 180.0,887.9 181.2,891.8 182.5,889.6 183.8,890.9 185.0,887.8 186.3,889.8 187.5,887.8 188.8,889.2 190.1,891.4 191.3,896.0 192.5,891.2 193.6,888.8 194.7,887.5 196.0,891.6 197.2,885.6 198.5,882.9 199.7,882.8 201.0,887.1 202.3,888.4 203.5,891.6 204.6,892.7 205.8,891.9 207.0,896.8 208.2,897.6 209.6,897.9 211.0,894.5 212.4,892.6 213.7,894.8 215.1,890.4 216.4,893.3 217.8,892.5 219.1,894.3 220.5,895.8 221.9,889.7 223.3,890.9 224.7,897.8 226.1,899.3 227.5,898.5 228.6,896.9 229.8,896.6 230.9,896.0 232.3,901.3 233.7,899.2 235.1,902.7 236.4,904.8 237.6,898.4 238.9,902.1 240.1,899.3 241.3,901.9 242.5,900.1 243.7,899.6 244.9,900.2 246.0,898.5 247.3,901.3 248.6,899.5 249.8,898.9 251.1,901.6 252.3,902.0 253.6,903.5 255.0,901.0 256.4,899.7 257.8,901.0 259.2,902.7 260.6,902.6 262.0,902.7 263.3,908.3 264.5,910.3 265.9,910.5 267.2,909.6 268.6,909.4 269.9,908.8 271.3,906.1 272.5,912.3 273.8,908.5 275.1,913.2 276.3,914.5 277.6,915.2 278.8,916.0 280.1,913.4 281.4,915.3 282.6,913.6 283.9,914.3 285.2,913.6 286.4,913.6 287.8,910.2 289.1,915.8 290.5,918.1 291.8,920.3 293.2,917.8 294.3,919.3 295.5,918.0 296.7,920.1 297.9,917.9 299.0,918.7 300.2,915.5 301.4,914.8 302.6,915.0 303.8,916.1 304.9,914.5 306.1,919.5 307.2,919.1 308.3,926.3 309.6,923.3 311.0,926.8 312.3,925.1 313.7,926.5 315.0,925.4 316.2,924.6 317.4,922.5 318.6,924.1 319.7,925.1 320.9,922.1 322.3,923.5 323.7,923.6 325.1,927.1 326.3,928.4 327.5,929.2 328.7,926.3 329.9,925.0 331.1,930.6 332.3,929.7 333.5,927.9 334.8,927.0 336.1,928.7 337.3,927.7 338.6,928.9 339.9,927.7 341.1,927.7 342.4,925.7 343.6,926.3 344.9,927.2 346.2,925.4 347.4,933.8 348.7,933.0 349.8,930.2 350.9,930.0 352.1,928.8 353.3,928.9 354.5,929.0 355.7,930.9 356.9,928.3 358.1,930.9 359.3,930.5 360.5,931.3 361.7,929.4 363.0,928.8 364.3,930.1 365.5,932.0 366.8,930.1 368.1,931.6 369.3,930.9 370.6,930.8 371.8,933.2 373.1,932.8 374.4,929.0 375.6,930.5 376.8,930.4 378.0,926.7 379.2,931.8 380.4,932.4 381.6,933.6 382.8,930.7 384.0,931.0 385.3,928.1 386.6,932.5 387.8,928.5 389.1,929.6 390.2,928.5 391.3,934.4 392.5,933.0 393.7,930.8 394.9,933.4 396.1,931.1 397.3,929.7 398.5,929.4 399.7,927.6 400.9,927.9 402.3,931.1 403.7,934.2 405.1,933.0 406.3,933.1 407.6,930.1 408.9,931.4 410.1,930.2 411.4,930.9 412.7,930.5 413.9,929.9 415.2,935.0 416.4,932.9 417.7,933.8 418.9,935.4 420.1,936.1 421.2,936.0 422.4,937.8 423.6,937.2 424.9,936.0 426.3,933.9 427.6,933.6 429.0,931.7 430.3,932.2 431.7,933.7 433.0,934.1 434.4,933.8 435.7,936.6 437.1,937.2 438.3,936.7 439.6,935.3 440.8,934.5 442.1,933.3 443.4,932.5 444.6,931.3 445.9,930.4 447.2,930.6 448.4,930.6 449.7,928.8 450.9,930.7 452.2,931.0 453.5,931.3 454.7,930.5 456.1,931.2 457.4,928.5 458.8,926.2 460.1,926.7 461.5,926.3 462.6,926.7 463.8,927.1 465.0,927.5 466.2,928.5 467.3,928.3 468.6,926.8 469.9,927.1 471.1,923.5 472.4,924.6 473.8,923.5 475.2,925.8 476.6,924.6 477.8,925.8 479.0,926.8 480.2,926.5 481.4,930.2 482.6,929.2 483.8,931.1 485.0,933.0 486.3,933.1 487.5,933.0 488.8,932.7 490.1,934.7 491.3,933.7 492.5,935.3 493.7,932.8 494.9,933.6 496.1,932.0 497.3,933.9 498.5,933.8 500.0,933.8 501.3,933.7 502.5,938.3 503.8,938.9 505.0,941.4 506.3,942.8 507.6,945.7 508.8,947.1 510.1,949.0 511.4,949.7 512.6,947.9 513.9,948.4 515.1,947.3 516.4,946.4 517.7,944.9 518.9,944.5 520.2,943.1 521.5,941.9 522.9,941.3 524.2,937.8 525.6,938.3 526.9,937.2 528.3,937.3 529.6,935.7 531.0,936.9 532.3,935.1 533.7,937.2 534.9,936.6 536.2,935.3 537.4,935.2 538.7,934.7 539.9,935.8 541.1,934.9 542.2,938.2 543.4,938.4 544.6,938.9 546.0,939.2 547.4,939.8 548.8,937.2 550.1,939.9 551.3,941.3 552.6,942.9 553.9,944.8 555.1,945.7 556.4,945.5 557.6,945.9 558.9,944.8 560.2,943.0 561.4,940.8 562.7,939.9 564.0,938.0 565.2,937.8 566.4,937.5 567.6,937.6 568.8,937.2 570.0,935.9 571.2,935.3 572.4,936.4 573.6,935.6 574.8,935.4 576.0,937.0 577.2,934.4 578.4,936.4 579.6,933.9 580.8,934.3 582.1,934.8 583.5,933.7 584.8,936.2 586.2,935.6 587.5,936.4 588.9,936.4 590.2,935.1 591.6,933.5 592.9,931.1 594.2,931.3 595.6,930.2 596.9,931.5 598.3,931.7 599.6,933.4 601.0,932.2 602.2,931.5 603.5,931.1 604.8,931.8 606.0,929.7 607.3,931.8 608.6,930.4 609.8,929.9 611.1,929.6 612.4,930.4 613.8,930.5 615.1,929.3 616.5,931.4 617.8,931.0 619.1,929.5 620.3,930.0 621.6,930.5 622.9,931.1 624.1,929.0 625.4,931.1 626.6,929.5 627.9,929.6 629.3,930.6 630.6,929.3 631.9,929.6 633.3,930.5 634.6,931.0 635.8,932.3 637.0,931.8 638.2,931.6 639.5,932.8 640.7,930.1 641.9,930.4 643.1,930.5 644.4,930.8 645.8,929.1 647.1,929.4 648.4,929.1 649.8,928.3 651.1,930.2 652.3,929.7 653.6,929.9 654.8,930.5 656.1,931.0 657.4,929.2 658.6,928.3 659.9,927.9 661.1,929.2 662.2,929.6 663.4,929.3 664.6,930.0 665.8,928.8 667.0,927.4 668.1,928.3 669.3,926.4 670.5,928.3 671.7,926.3 673.0,926.1 674.4,926.7 675.7,925.8 677.1,928.8 678.4,927.1 679.7,927.5 680.9,925.9 682.2,926.5 683.5,926.5 684.7,928.1 686.0,927.7 687.2,926.7 688.5,927.1 689.7,927.6 690.9,927.9 692.1,927.2 693.3,926.9 694.5,925.1 695.7,925.1 696.9,926.3 698.2,928.3 699.4,924.9 700.7,925.4 702.0,926.9 703.2,926.4 704.5,925.2 705.8,926.3 707.0,925.9 708.2,925.2 709.4,926.1 710.6,928.5 711.8,927.4 713.0,926.4 714.2,928.2 715.4,927.9 716.7,928.0 718.0,928.7 719.2,925.7 720.5,926.9 721.7,926.9 723.0,925.8 724.3,926.7 725.5,926.3 726.9,926.4 728.2,926.1 729.6,925.0 730.9,925.6 732.3,924.9 733.6,923.2 735.0,924.0 736.3,923.7 737.6,925.1 739.0,922.9 740.3,921.9 741.7,922.4 743.0,922.5 744.4,923.3 745.7,924.2 747.1,921.6 748.4,922.3 749.8,922.9 751.1,920.9 752.5,920.4 753.7,918.5 754.9,920.5 756.1,922.5 757.3,922.5 758.5,921.9 759.7,922.1 760.9,922.1 762.2,922.4 763.5,923.0 764.8,921.9 766.1,921.8 767.4,922.8 768.7,921.6 770.0,922.8 771.3,922.2 772.7,922.6 773.9,921.7 775.1,923.6 776.3,921.7 777.5,922.5 778.8,922.8 780.0,924.2 781.2,921.8 782.4,922.4 783.7,922.2 784.9,920.7 786.1,922.1 787.3,920.0 788.6,921.7 789.8,921.5 791.0,923.4 792.2,921.9 793.5,920.5 794.7,920.7 795.9,922.5 797.1,920.6 798.4,922.5 799.6,921.5 800.9,921.4 802.2,921.3 803.5,920.3 804.8,921.2 806.1,920.2 807.4,919.2 808.7,921.1 810.1,922.0 811.4,920.4 812.6,921.4 813.8,919.9 815.0,919.3 816.2,920.9 817.4,919.8 818.6,919.6 819.8,919.9 821.0,920.3 822.3,920.3 823.6,918.6 824.8,918.8 826.1,918.8 827.3,917.8 828.6,919.3 829.9,918.7 831.1,918.8 832.4,918.9 833.7,918.0 834.9,918.7 836.2,918.2 837.4,917.0 838.7,918.8 840.0,918.2 841.2,918.8 842.5,920.0 843.8,920.1 845.0,920.4 846.2,919.2 847.4,920.5 848.6,920.4 849.7,920.3 850.9,920.4 852.0,920.6 853.2,924.2 854.3,924.6 856.0,933.0 857.1,933.6 858.2,935.0 859.3,937.7 860.0,938.0 861.3,937.2 862.5,935.3 863.8,933.8 865.0,933.0 866.2,929.6 867.3,928.5 868.4,925.4 869.7,928.2 870.9,933.0 872.6,910.3 873.9,909.5 875.1,907.7 876.4,922.9 877.7,942.3 879.4,927.9 880.5,926.3 881.6,924.6 882.7,922.1 883.9,921.9 885.1,923.0 886.3,924.2 887.4,923.0 888.6,923.7 890.0,923.6 891.3,921.9 892.7,919.6 894.0,919.6 895.3,918.7 896.7,918.9 898.0,920.9 899.4,919.2 900.7,919.7 902.1,920.4 903.3,919.9 904.5,920.5 905.7,917.8 906.9,919.2 908.1,918.2 909.3,918.7 910.5,917.0 911.7,915.7 912.9,917.5 914.2,916.7 915.4,917.4 916.6,916.5 917.8,916.0 919.1,915.8 920.3,918.2 921.5,915.4 922.7,917.0 924.0,917.0 925.2,915.2 926.4,917.5 927.6,917.2 928.9,915.8 930.1,915.5 931.3,916.7 932.5,913.9 933.7,914.9 935.0,914.1 936.2,914.9 937.4,915.3 938.6,916.1 939.9,916.1 941.1,915.0 942.3,916.4 943.5,915.6 944.8,914.6 946.0,914.4 947.2,915.0 948.4,915.1 949.7,913.7 950.9,915.8 952.1,915.4 953.4,914.8 954.7,916.0 955.9,915.4 957.2,914.4 958.5,913.0 959.7,916.1 961.0,914.5 962.2,915.6 963.4,914.3 964.7,914.1 965.9,913.9 967.1,913.2 968.3,913.8 969.5,915.7 970.8,913.1 972.0,913.8 973.2,913.1 974.4,913.6 975.8,913.8 977.1,915.0 978.5,913.8 979.8,914.9 981.2,915.3 982.4,916.1 983.6,915.1 984.9,914.5 986.1,915.7 987.3,914.6 988.5,916.2 989.7,915.8 991.0,914.5 992.2,914.9 993.4,916.3 994.6,915.0 996.0,912.9 997.3,914.9 998.6,914.1 999.9,915.5 1001.2,914.4 1002.5,914.4 1003.8,914.6 1005.1,915.6 1006.4,914.5 1007.7,915.2 1009.0,914.6 1010.4,914.3 1011.7,914.4 1013.0,912.9 1014.3,913.7 1015.6,913.7 1016.9,912.6 1018.2,912.8 1019.3,912.3 1020.4,914.1 1021.6,915.3 1022.9,913.5 1024.3,912.8 1025.6,914.0 1027.0,912.7 1028.3,912.5 1029.5,911.6 1030.8,913.7 1032.0,912.0 1033.2,912.9 1034.4,912.4 1035.6,911.8 1036.9,911.1 1038.1,911.2 1039.3,909.7 1040.5,910.8 1041.8,911.1 1043.1,910.3 1044.5,910.5 1045.8,911.4 1047.2,912.5 1048.5,911.4 1049.8,910.3 1051.0,910.7 1052.3,912.8 1053.5,910.4 1054.8,909.4 1056.1,909.8 1057.3,910.6 1058.6,909.4 1059.9,908.9 1061.1,909.5 1062.4,909.2 1063.6,909.4 1064.8,911.7 1065.9,913.1 1067.0,913.6 1068.4,913.3 1069.7,911.8 1071.1,910.4 1072.4,909.5 1073.7,908.6 1075.0,907.1 1076.3,906.7 1077.5,910.7 1078.8,907.9 1080.1,907.4 1081.3,909.0 1082.6,908.3 1083.8,908.6 1085.1,912.3 1086.4,913.6 1087.5,910.0 1088.6,909.8 1089.7,906.9 1091.1,907.2 1092.4,906.9 1093.7,905.7 1095.0,908.3 1096.3,907.2 1097.7,906.0 1099.0,906.1 1100.4,906.8 1101.8,908.9 1103.2,912.0 1104.6,906.8 1106.0,906.7 1107.4,904.4 1108.6,903.7 1109.8,905.0 1111.0,903.8 1112.2,900.7 1113.4,901.6 1114.6,903.1 1115.8,903.0 1116.9,904.9 1118.1,907.7 1119.2,908.6 1120.3,906.3 1121.4,903.8 1122.6,901.9 1123.9,902.7 1125.2,904.9 1126.6,903.0 1127.9,904.1 1129.3,902.7 1130.7,905.8 1132.1,908.7 1133.5,908.6 1134.8,905.0 1136.0,900.2 1137.2,901.1 1138.4,902.3 1139.6,899.7 1140.8,901.0 1142.0,903.0 1143.2,903.2 1144.4,903.5 1145.6,906.6 1146.7,905.2 1147.8,907.7 1149.2,904.1 1150.6,903.8 1152.0,901.0 1153.4,903.5 1154.8,905.4 1156.2,906.1 1157.3,904.4 1158.5,901.6 1159.6,900.2 1160.8,899.6 1162.1,901.3 1163.4,902.3 1164.6,901.9 1165.8,902.7 1166.9,905.4 1168.0,906.1 1169.1,906.8 1170.2,900.7 1171.4,897.6 1172.7,898.6 1174.1,897.5 1175.4,897.2 1176.7,899.6 1178.1,899.3 1179.2,904.4 1180.3,909.2 1181.5,913.6 1182.5,902.8 1183.5,888.4 1184.8,892.2 1186.1,895.8 1187.3,897.6 1188.6,897.2 1189.9,898.0 1191.1,897.3 1192.4,897.6 1193.7,902.1 1195.0,904.5 1196.3,907.7 1197.7,893.9 1199.1,885.0 1200.3,886.2 1201.4,893.3 1202.5,896.0 1203.6,901.7 1204.7,906.7 1205.9,908.6 1207.3,897.6 1208.7,893.7 1210.1,885.0 1211.3,884.0 1212.6,889.1 1213.9,890.6 1215.1,890.9 1216.4,892.5 1217.6,896.8 1219.3,891.8 1220.0,892.3 1221.3,890.7 1222.5,894.0 1223.8,894.9 1225.0,899.0 1226.5,902.7 1227.9,902.8 1229.3,905.8 1230.4,892.1 1231.4,878.0 1232.6,879.4 1233.7,886.5 1234.9,890.0 1236.0,894.0 1237.1,891.2 1238.2,889.7 1239.4,885.6 1240.5,893.7 1241.6,899.6 1242.7,905.8 1244.0,893.8 1245.2,883.9 1246.5,884.9 1247.8,881.3 1249.0,891.9 1250.3,899.0 1251.4,891.8 1252.5,890.9 1253.7,886.4 1254.8,894.5 1255.9,900.3 1257.0,910.8 1258.4,905.5 1259.8,899.4 1261.2,894.0 1262.6,888.7 1264.0,889.3 1265.4,885.6 1266.7,896.7 1268.0,913.3 1269.6,879.7 1271.1,884.5 1272.5,885.1 1273.9,885.6 1275.1,898.2 1276.3,910.9 1277.6,920.9 1279.1,904.2 1280.6,883.0 1282.0,884.5 1283.4,889.9 1284.8,895.7 1286.2,903.1 1287.6,913.8 1289.0,921.8 1290.3,903.2 1291.5,878.8 1292.6,875.0 1293.7,870.4 1294.9,879.2 1296.0,889.0 1297.1,898.8 1298.3,910.8 1299.4,891.2 1300.4,867.0 1301.7,871.2 1302.9,879.9 1304.2,887.2 1305.3,887.3 1306.4,887.6 1307.5,887.2 1308.8,880.1 1310.0,868.7 1311.7,862.0 1313.1,869.3 1314.5,873.6 1315.9,878.8 1316.9,888.2 1318.0,905.8 1319.5,875.6 1321.0,846.0 1322.4,849.2 1323.8,853.9 1325.2,855.3 1326.5,866.5 1327.8,880.7 1329.1,894.0 1330.2,884.2 1331.3,867.5 1332.4,856.9 1333.9,872.8 1335.3,890.6 1336.5,901.3 1337.8,909.1 1338.9,913.6 1340.1,916.9 1341.2,924.3 1342.4,929.2 1343.7,933.7 1345.0,933.3 1346.2,939.4 1347.5,942.7 1348.8,948.1 1350.0,950.6 1351.3,954.6 1352.7,957.4 1354.1,960.6 1355.5,962.2 1356.6,960.0 1357.7,957.1 1358.8,954.6 1360.5,946.2 1361.9,947.6 1363.3,945.2 1364.7,947.8 1366.0,955.9 1367.3,963.0 1368.4,951.5 1369.5,944.5 1370.9,954.9 1372.3,968.0 1373.4,964.1 1374.6,964.1 1375.7,961.3 1377.1,977.1 1378.5,996.7 1379.6,973.0 1380.7,949.5 1382.0,949.2 1383.3,949.5 1384.5,950.3 1385.8,952.9 1387.0,960.9 1388.3,966.4 1389.4,968.4 1390.5,972.6 1391.7,974.8 1392.5,915.9 1393.8,917.7 1395.0,920.9 1396.7,946.2 1398.0,939.8 1399.2,931.0 1400.4,936.7 1401.5,944.8 1402.6,949.5 1404.3,920.9 1405.7,919.1 1407.1,919.6 1408.5,917.5 1409.8,928.1 1411.0,937.7 1412.7,962.2 1413.9,886.4 1415.4,895.4 1416.9,905.8 1418.2,914.6 1419.4,920.9 1420.7,912.1 1422.0,907.4 1423.6,935.2 1424.9,919.5 1426.2,905.8 1427.3,903.8 1428.4,903.9 1429.5,903.2 1431.0,916.1 1432.4,931.0 1433.7,921.7 1435.0,915.2 1436.3,907.4 1437.5,912.0 1438.8,917.5 1439.9,921.9 1441.0,928.9 1442.2,932.7 1443.8,954.6 1445.1,962.7 1446.4,973.1 1447.8,982.3 1449.2,989.1 1450.5,982.1 1451.8,974.8 1453.1,966.4 1454.5,963.7 1455.9,964.3 1457.3,963.0 1459.0,949.5 1460.3,948.5 1461.5,947.8 1462.8,948.1 1464.0,948.7 1465.2,952.9 1466.3,955.6 1467.4,961.3 1468.8,952.4 1470.3,942.8 1471.7,945.0 1473.0,945.3 1474.4,948.1 1475.8,951.2 1477.1,952.5 1478.3,949.1 1479.6,947.4 1480.9,946.2 1482.1,943.3 1483.4,941.1 1484.7,938.3 1485.9,936.9 1487.2,945.0 1488.4,952.9 1489.6,954.5 1490.7,956.0 1491.8,957.9 1493.1,966.5 1494.3,973.1 1495.8,976.3 1497.4,980.7 1498.6,977.5 1499.8,973.3 1501.1,969.7 1502.2,965.9 1503.3,961.9 1504.4,957.9 1505.7,949.4 1507.0,941.1 1508.4,939.2 1509.8,936.4 1511.2,934.4 1512.4,935.5 1513.7,937.1 1515.0,938.5 1516.2,939.4 1517.5,945.2 1518.7,952.1 1520.1,950.9 1521.5,949.2 1522.9,946.2 1524.2,952.3 1525.5,957.9 1526.9,962.1 1528.3,967.0 1529.7,969.7 1530.9,971.1 1532.2,973.1 1533.4,971.1 1534.6,970.4 1535.7,968.3 1536.9,967.0 1538.1,965.5 1539.3,964.8 1540.4,964.8 1541.6,965.2 1542.8,964.5 1544.0,964.7 1545.2,966.0 1546.3,967.8 1547.5,970.1 1548.7,971.5 1549.9,973.1 1551.1,972.3 1552.4,972.1 1553.7,969.8 1554.9,968.9 1556.0,964.6 1557.2,959.4 1558.3,954.6 1559.6,950.7 1560.8,946.8 1562.1,941.7 1563.3,937.7 1564.5,933.3 1565.6,929.3 1566.7,926.0 1567.8,924.9 1568.9,923.5 1570.1,922.6 1571.4,922.3 1572.8,923.6 1574.1,923.4 1575.5,924.3 1576.8,924.3 1578.1,923.7 1579.3,922.3 1580.5,921.2 1581.7,920.5 1583.1,920.5 1584.5,920.8 1585.9,920.5 1587.1,924.5 1588.3,927.5 1589.5,931.0 1590.9,938.7 1592.3,946.5 1593.3,956.0 1594.4,966.1 1595.4,974.8 1596.5,982.9 1597.5,990.7 1598.6,998.3 1599.7,1002.6 1600.9,1007.6 1602.1,1011.0 1603.5,1014.3 1604.9,1017.3 1606.3,1020.8 1607.7,1024.6 1609.1,1026.4 1610.5,1029.2 1611.9,1029.9 1613.3,1033.3 1614.7,1034.8 1615.9,1036.5 1617.0,1037.8 1618.2,1039.0 1619.6,1047.4 1620.8,1048.7 1621.9,1051.9 1623.1,1053.0 1624.5,1054.6 1625.9,1056.1 1627.3,1057.2 1628.7,1056.7 1630.1,1056.8 1631.5,1058.0 1632.9,1057.9 1634.3,1059.9 1635.7,1062.4 1637.1,1064.3 1638.5,1066.8 1639.9,1067.5 1641.3,1070.6 1642.7,1069.3 1644.2,1066.0 1645.6,1064.3 1647.0,1060.1 1648.4,1055.8 1649.8,1054.4 1651.2,1054.4 1652.6,1057.2 1654.0,1060.1 1655.0,1064.2 1656.1,1067.1 1657.3,1067.2 1658.5,1068.2 1659.8,1069.3 1661.0,1069.9 1662.4,1085.3 1663.8,1100.7 1664.8,1107.6 1665.9,1114.7 1666.9,1120.7 1668.0,1126.0 1669.2,1127.8 1670.4,1130.5 1671.7,1131.7 1672.9,1133.0 1674.1,1131.6 1675.4,1131.2 1676.6,1130.0 1677.8,1128.8 1679.2,1128.6 1680.6,1127.7 1682.0,1126.0 1683.1,1122.4 1684.1,1117.6 1685.5,1115.4 1686.9,1113.3 1688.3,1115.2 1689.7,1118.3 1690.9,1116.9 1692.1,1118.1 1693.2,1117.6 1694.5,1115.5 1695.7,1113.9 1696.9,1112.2 1698.1,1110.5 1699.4,1111.0 1700.6,1111.0 1701.8,1110.0 1703.1,1110.5 1704.5,1113.2 1705.9,1114.9 1707.3,1117.6 1708.7,1119.4 1710.1,1121.3 1711.5,1123.2 1712.9,1129.0 1714.3,1135.8 1715.4,1132.7 1716.6,1131.2 1717.8,1128.8 1718.8,1123.0 1719.9,1116.1 1721.3,1110.1 1722.7,1103.5 1724.1,1097.3 1725.5,1092.3 1726.9,1095.5 1728.3,1097.9 1729.4,1108.9 1730.4,1121.8 1731.8,1121.3 1733.2,1120.4 1734.3,1115.3 1735.3,1109.1 1736.7,1092.3 1738.1,1090.1 1739.5,1086.7 1740.9,1085.3 1742.3,1082.5 1743.7,1077.6 1745.1,1075.5 1746.5,1074.2 1747.9,1072.4 1749.3,1069.9 1750.7,1067.3 1752.1,1065.3 1753.5,1062.9 1755.0,1058.9 1756.4,1057.3 1757.8,1054.4 1759.2,1052.1 1760.6,1050.2 1762.0,1046.6 1763.4,1041.8 1764.5,1040.5 1765.7,1041.8 1766.9,1040.4 1768.0,1043.3 1769.2,1047.7 1770.4,1051.6 1771.8,1050.0 1773.2,1047.1 1774.6,1044.6 1776.0,1042.4 1777.4,1041.5 1778.8,1039.0 1780.2,1036.6 1781.6,1036.2 1783.0,1034.8 1784.2,1032.7 1785.3,1029.5 1786.5,1027.8 1787.9,1030.9 1789.3,1034.8 1790.7,1040.2 1792.1,1044.6 1793.3,1041.7 1794.5,1040.0 1795.6,1036.2 1796.8,1032.7 1798.0,1029.1 1799.1,1026.4 1800.4,1026.8 1801.6,1026.2 1802.8,1025.2 1804.0,1026.4 1805.4,1030.7 1806.8,1034.8 1808.0,1037.2 1809.2,1038.0 1810.4,1040.4 1811.5,1039.1 1812.7,1037.0 1813.9,1034.8 1815.3,1031.8 1816.7,1028.8 1818.1,1026.4 1819.5,1026.1 1820.9,1025.8 1822.3,1024.3 1823.7,1025.7 1825.1,1025.8 1826.5,1027.8 1827.9,1030.0 1829.3,1029.7 1830.7,1030.5 1832.1,1032.0 1833.5,1035.1 1834.9,1038.3 1836.3,1040.4 1837.7,1042.0 1839.1,1044.9 1840.5,1046.7 1841.9,1046.5 1843.3,1045.8 1844.7,1045.0 1846.1,1045.3 1847.3,1042.6 1848.5,1038.1 1849.6,1036.2 1851.0,1031.5 1852.4,1028.9 1853.8,1025.0 1855.0,1023.0 1856.2,1021.5 1857.3,1019.4 1858.6,1023.4 1859.9,1028.1 1861.4,1035.1 1862.8,1041.4 1864.0,1042.3 1865.1,1044.4 1866.3,1040.7 1867.5,1036.2 1868.8,1032.5 1870.0,1029.4 1871.2,1026.5 1872.5,1023.7 1873.7,1025.3 1874.9,1026.2 1876.2,1028.1 1877.6,1037.6 1879.1,1047.3 1880.6,1041.5 1882.1,1035.5 1883.3,1033.1 1884.5,1030.1 1885.8,1028.1 1887.0,1028.7 1888.2,1030.7 1889.5,1031.8 1890.9,1037.4 1892.4,1044.4 1893.9,1052.5 1895.4,1060.6 1896.5,1070.0 1897.6,1079.8 1899.1,1087.9 1900.5,1097.6 1901.7,1107.8 1902.8,1118.3 1903.9,1129.2 1905.0,1139.0 1906.1,1146.0 1907.2,1152.3 1908.7,1149.9 1910.2,1146.4 1911.6,1138.2 1913.1,1130.1 1914.6,1121.6 1916.1,1112.4 1917.6,1107.1 1919.0,1100.5 1920.3,1097.6 1921.5,1096.6 1922.7,1093.1 1924.0,1091.4 1925.2,1089.6 1926.4,1088.7 1927.5,1088.0 1928.6,1088.0 1929.8,1088.7 1930.9,1088.7 1932.2,1090.8 1933.4,1091.8 1934.7,1093.0 1936.0,1094.6 1937.3,1094.3 1938.5,1092.8 1939.7,1091.7 1940.8,1092.9 1941.9,1093.8 1943.1,1095.6 1944.2,1096.1 1945.4,1098.4 1946.6,1098.9 1947.9,1100.5 1949.1,1103.3 1950.3,1106.0 1951.6,1107.9 1952.8,1104.4 1954.0,1099.4 1955.3,1096.1 1956.4,1095.7 1957.5,1094.7 1958.6,1094.3 1959.7,1093.1 1960.8,1092.5 1961.9,1092.6 1963.0,1092.7 1964.1,1092.4 1965.6,1095.5 1967.1,1100.5 1968.3,1097.7 1969.6,1096.6 1970.8,1094.6 1971.9,1094.7 1973.0,1092.0 1974.1,1091.8 1975.2,1091.7 1976.7,1094.0 1978.2,1096.1 1979.3,1106.4 1980.4,1116.8 1981.5,1116.7 1982.6,1116.6 1983.7,1116.0 1984.8,1116.8 1985.9,1120.9 1987.0,1125.7 1988.5,1130.0 1990.0,1134.5 1991.2,1131.7 1992.5,1131.1 1993.7,1128.6 1995.2,1128.7 1996.7,1130.1 1997.9,1134.1 1999.1,1137.7 2000.4,1140.4 2001.5,1151.5 2002.6,1161.1 2003.7,1167.2 2004.8,1174.5 2005.9,1176.7 2007.0,1179.9 2008.1,1184.2 2009.2,1186.3 2010.5,1182.5 2011.7,1178.6 2012.9,1174.5 2014.2,1175.9 2015.4,1177.8 2016.6,1178.9 2017.9,1176.9 2019.1,1175.5 2020.3,1173.0 2021.4,1182.2 2022.5,1192.2 2023.8,1194.6 2025.0,1195.7 2026.2,1198.1 2027.3,1207.5 2028.5,1217.3 2029.6,1212.6 2030.7,1207.6 2031.8,1204.0 2032.9,1199.6 2034.1,1204.8 2035.4,1207.4 2036.6,1212.9 2037.7,1208.6 2038.8,1204.4 2039.9,1200.0 2041.0,1195.2 2042.1,1201.3 2043.2,1207.0 2044.3,1218.1 2045.5,1230.6 2046.7,1228.0 2047.9,1224.5 2049.2,1221.8 2050.3,1230.4 2051.4,1239.5 2052.3,1230.1 2053.3,1221.8"/>
<polyline class="curve" stroke="#ff3d3d" style="stroke-width:6.2;stroke-linejoin:round" points="1225.0,899.0 1226.5,902.7 1227.9,902.8 1229.3,905.8 1230.4,892.1 1231.4,878.0 1232.6,879.4 1233.7,886.5 1234.9,890.0 1236.0,894.0 1237.1,891.2 1238.2,889.7 1239.4,885.6 1240.5,893.7 1241.6,899.6 1242.7,905.8 1244.0,893.8 1245.2,883.9 1246.5,884.9 1247.8,881.3 1249.0,891.9 1250.3,899.0 1251.4,891.8 1252.5,890.9 1253.7,886.4 1254.8,894.5 1255.9,900.3 1257.0,910.8 1258.4,905.5 1259.8,899.4 1261.2,894.0 1262.6,888.7 1264.0,889.3 1265.4,885.6 1266.7,896.7 1268.0,913.3 1269.6,879.7 1271.1,884.5 1272.5,885.1 1273.9,885.6 1275.1,898.2 1276.3,910.9 1277.6,920.9 1279.1,904.2 1280.6,883.0 1282.0,884.5 1283.4,889.9 1284.8,895.7 1286.2,903.1 1287.6,913.8 1289.0,921.8 1290.3,903.2 1291.5,878.8 1292.6,875.0 1293.7,870.4 1294.9,879.2 1296.0,889.0 1297.1,898.8 1298.3,910.8 1299.4,891.2 1300.4,867.0 1301.7,871.2 1302.9,879.9 1304.2,887.2 1305.3,887.3 1306.4,887.6 1307.5,887.2 1308.8,880.1 1310.0,868.7 1311.7,862.0 1313.1,869.3 1314.5,873.6 1315.9,878.8 1316.9,888.2 1318.0,905.8 1319.5,875.6 1321.0,846.0 1322.4,849.2 1323.8,853.9 1325.2,855.3 1326.5,866.5 1327.8,880.7 1329.1,894.0 1330.2,884.2 1331.3,867.5 1332.4,856.9 1333.9,872.8"/>
<polyline class="curve" stroke="#006fe0" points="141.7,647.1 142.9,649.6 144.2,646.7 145.5,649.8 146.7,648.8 147.9,647.8 149.1,653.3 150.3,655.3 151.4,652.8 152.6,654.7 153.7,648.5 154.9,650.5 156.0,648.0 157.2,649.8 158.3,650.8 159.5,648.3 160.7,648.7 161.9,652.2 163.2,649.9 164.6,652.2 165.9,647.1 167.3,652.6 168.6,651.3 169.8,648.5 171.0,650.7 172.1,651.2 173.3,655.1 174.5,655.6 175.7,658.9 177.0,656.6 178.3,649.7 179.6,653.0 180.7,651.3 181.9,651.5 183.1,651.4 184.3,652.2 185.4,650.5 186.7,653.3 188.0,657.2 189.1,654.6 190.3,655.7 191.5,655.9 192.7,653.7 193.9,654.7 195.3,652.6 196.7,654.1 198.1,650.5 199.5,654.3 200.9,651.9 202.3,654.7 203.5,655.9 204.6,661.3 205.8,660.1 207.0,665.0 208.2,664.8 209.6,665.1 211.0,660.6 212.4,658.1 213.5,663.2 214.6,659.4 215.7,662.3 217.3,660.8 218.8,656.4 220.1,659.5 221.5,658.0 222.8,658.9 224.2,661.4 225.6,663.4 227.0,668.1 228.4,670.7 229.5,671.1 230.6,664.3 231.7,664.8 233.1,665.8 234.5,669.9 235.9,670.7 237.3,673.7 238.6,670.5 240.0,669.3 241.3,669.6 242.7,669.9 243.9,672.5 245.2,671.2 246.5,670.5 247.7,670.7 249.1,669.9 250.5,670.5 251.9,669.0 253.3,668.6 254.7,676.9 256.1,676.6 257.3,676.3 258.4,675.5 259.5,674.9 260.6,677.2 261.7,680.7 262.9,679.1 264.2,677.6 265.6,677.2 266.9,677.5 268.2,674.7 269.6,679.1 270.9,681.8 272.1,678.9 273.4,679.0 274.6,682.5 276.0,685.8 277.4,685.9 278.8,689.2 280.3,686.4 281.7,694.4 283.1,690.1 284.2,685.6 285.3,689.3 286.4,688.4 287.6,688.7 288.8,691.3 290.0,691.1 291.1,690.7 292.3,694.3 293.5,692.4 294.7,694.2 295.8,691.8 297.0,697.1 298.2,694.3 299.4,689.4 300.6,693.9 301.8,700.3 303.0,694.0 304.2,693.8 305.4,693.4 306.6,696.8 307.9,699.6 309.1,701.8 310.4,700.1 311.7,700.2 312.9,702.6 314.2,703.5 315.4,707.8 316.5,705.5 317.7,702.6 318.9,702.2 320.1,701.0 321.5,705.1 322.9,700.8 324.3,704.4 325.7,702.0 327.1,705.3 328.5,702.7 329.8,709.0 331.0,706.6 332.3,709.4 333.5,706.9 334.9,705.9 336.2,706.3 337.6,709.1 338.9,704.4 340.3,705.2 341.7,704.3 343.1,708.4 344.5,706.9 345.6,709.5 346.7,706.6 347.9,711.1 349.0,712.9 350.2,708.1 351.4,711.1 352.6,710.5 353.7,709.4 355.1,707.9 356.4,709.6 357.8,709.0 359.1,708.8 360.5,707.7 361.9,710.4 363.3,711.6 364.7,711.1 365.9,710.6 367.1,709.2 368.3,709.3 369.5,710.1 370.7,712.8 371.9,707.4 373.1,707.7 374.3,708.2 375.5,710.0 376.6,708.7 377.8,708.6 379.0,710.3 380.3,710.2 381.7,707.1 383.0,707.8 384.4,708.7 385.7,708.6 387.0,709.5 388.2,708.1 389.5,709.5 390.8,706.9 392.5,711.1 393.6,709.8 394.7,710.6 395.8,706.1 397.1,706.6 398.3,706.3 399.6,707.4 400.9,705.2 402.3,707.4 403.7,708.2 405.1,708.6 406.5,707.2 407.9,705.5 409.3,706.9 410.5,709.5 411.8,707.7 413.1,706.3 414.3,708.6 415.6,707.5 416.9,711.0 418.1,713.5 419.4,712.8 420.8,712.4 422.2,713.2 423.6,714.5 424.8,712.8 425.9,714.3 427.1,712.3 428.3,711.9 429.5,711.1 430.9,712.0 432.3,712.1 433.7,712.0 435.1,713.3 436.5,714.4 437.9,714.5 439.2,713.2 440.4,714.0 441.7,710.3 442.9,709.4 444.2,709.6 445.5,709.2 446.7,711.1 448.0,710.3 449.3,709.8 450.7,709.5 452.0,708.9 453.4,708.8 454.7,707.7 456.1,707.7 457.4,706.8 458.8,704.3 460.1,704.1 461.5,705.2 462.7,704.3 464.0,705.0 465.2,706.3 466.5,706.1 467.7,705.1 468.9,702.3 470.0,703.2 471.2,702.6 472.4,700.7 473.7,700.6 474.9,701.0 476.2,700.6 477.4,701.9 478.6,703.8 479.8,703.7 481.0,705.9 482.2,705.7 483.3,706.9 484.5,708.7 485.6,709.6 486.7,710.3 488.0,709.9 489.2,709.1 490.5,710.1 491.8,711.1 493.1,710.6 494.4,708.8 495.8,709.1 497.1,708.9 498.5,707.7 500.0,707.7 501.3,710.7 502.5,712.2 503.8,715.1 505.0,717.8 506.3,720.4 507.6,723.1 508.8,726.6 510.1,728.8 511.3,728.0 512.5,726.8 513.7,727.7 514.9,727.7 516.1,728.1 517.3,729.0 518.5,727.1 519.8,725.3 521.0,722.9 522.4,722.4 523.7,723.5 525.1,723.7 526.4,723.4 527.8,724.6 529.1,722.9 530.5,721.5 531.8,721.8 533.2,718.3 534.5,717.8 535.8,716.4 537.2,716.5 538.5,716.7 539.9,714.2 541.2,715.3 542.4,715.8 543.6,717.8 544.8,718.4 546.0,718.2 547.2,716.6 548.4,717.3 549.6,718.7 551.1,719.5 552.5,723.9 553.9,725.4 555.1,728.4 556.4,729.6 557.7,730.5 559.1,729.5 560.4,727.0 561.8,726.7 563.1,724.6 564.4,726.4 565.8,723.9 567.1,722.4 568.4,722.2 569.7,721.5 571.0,723.5 572.4,722.9 573.6,722.4 574.9,722.7 576.2,720.5 577.4,720.7 578.7,719.8 579.9,720.9 581.2,718.9 582.5,718.7 583.8,718.9 585.1,717.6 586.4,717.2 587.7,719.6 589.0,716.9 590.3,717.0 591.6,718.3 592.9,718.3 594.2,717.8 595.5,717.4 596.7,718.8 597.9,717.9 599.1,718.9 600.4,719.0 601.6,718.3 602.8,717.9 604.0,716.8 605.3,718.7 606.5,717.5 607.7,717.8 609.0,718.7 610.2,718.3 611.5,716.9 612.8,718.5 614.0,717.1 615.3,717.2 616.5,717.4 617.8,716.2 619.1,715.4 620.4,717.0 621.7,715.8 623.0,715.7 624.3,716.0 625.6,716.6 626.9,716.2 628.2,717.2 629.5,715.6 630.8,715.8 632.1,715.5 633.3,715.0 634.6,716.5 635.9,715.8 637.2,717.6 638.5,718.4 639.8,715.1 641.1,717.7 642.4,716.6 643.7,715.7 645.0,716.2 646.3,716.9 647.6,715.3 648.9,715.7 650.2,715.3 651.5,715.8 652.7,716.0 654.0,716.7 655.3,715.7 656.5,716.2 657.8,714.9 659.0,714.5 660.3,717.1 661.6,716.5 662.8,716.3 664.0,717.4 665.2,716.1 666.5,715.8 667.7,717.1 668.9,715.2 670.1,713.8 671.4,715.1 672.6,717.1 673.8,716.0 675.0,715.0 676.3,713.0 677.6,716.0 678.8,715.2 680.1,714.2 681.3,715.1 682.6,713.5 683.9,714.2 685.1,715.6 686.4,715.0 687.7,716.8 688.9,717.4 690.2,716.2 691.4,717.3 692.6,716.6 693.8,715.6 695.0,715.5 696.2,714.5 697.4,716.1 698.6,715.3 699.8,715.6 701.0,715.6 702.3,714.7 703.5,714.6 704.7,713.9 705.9,715.3 707.2,715.4 708.4,715.7 709.6,715.0 710.8,715.6 712.1,715.3 713.5,715.9 714.9,717.4 716.3,718.7 717.6,719.8 718.9,718.4 720.2,717.3 721.6,718.3 722.9,718.0 724.2,718.4 725.5,717.8 726.7,718.2 727.9,717.9 729.1,716.1 730.3,716.3 731.5,716.5 732.7,716.0 733.9,716.5 735.1,716.7 736.3,715.6 737.5,718.4 738.7,717.1 740.0,718.9 741.2,719.1 742.4,718.7 743.7,717.9 745.0,718.1 746.4,717.4 747.7,716.0 749.1,717.8 750.4,718.4 751.6,716.2 752.9,715.7 754.1,714.5 755.5,714.2 756.8,715.6 758.2,716.3 759.5,716.9 760.9,716.5 762.1,717.2 763.4,716.5 764.7,714.7 765.9,716.1 767.2,715.8 768.4,716.7 769.7,718.3 771.0,716.4 772.2,717.8 773.5,716.2 774.8,717.4 776.0,717.0 777.2,716.7 778.4,718.0 779.6,717.1 780.8,717.6 782.0,715.7 783.2,715.8 784.4,716.5 785.7,716.9 787.0,718.1 788.2,718.3 789.5,719.6 790.7,716.8 792.0,717.4 793.3,718.8 794.5,719.5 795.7,719.5 796.9,720.0 798.1,718.3 799.3,720.9 800.5,719.8 801.7,719.9 802.9,719.9 804.2,718.9 805.5,718.8 806.7,719.2 808.0,719.6 809.3,720.4 810.5,718.6 811.8,718.8 813.0,718.7 814.4,719.0 815.7,720.1 817.1,720.7 818.4,718.0 819.8,719.5 821.0,719.6 822.3,719.5 823.6,718.5 824.8,718.9 826.1,720.5 827.3,717.2 828.6,719.1 829.9,719.2 831.1,717.7 832.3,719.4 833.5,720.2 834.7,718.9 835.9,717.1 837.1,717.9 838.3,719.2 839.5,720.8 840.7,720.4 841.9,718.1 843.1,720.7 844.3,720.1 845.5,718.4 846.7,719.5 848.1,719.6 849.5,719.9 850.9,721.2 852.0,722.2 853.2,723.9 854.3,725.4 856.0,733.0 857.1,734.2 858.2,736.9 859.3,736.7 860.0,736.4 861.4,736.1 862.8,738.4 864.2,738.9 865.6,736.4 867.0,734.0 868.4,731.3 869.7,727.2 870.9,720.4 872.2,728.7 873.5,736.4 875.1,717.8 876.4,727.2 877.7,737.2 879.1,733.5 880.5,732.0 881.9,727.9 883.1,729.3 884.4,727.1 885.7,726.5 886.9,728.8 888.2,730.5 889.5,730.6 890.7,731.2 892.0,732.2 893.1,729.8 894.2,727.4 895.3,726.3 896.7,727.3 898.1,727.0 899.6,727.9 900.8,726.6 902.1,725.1 903.3,724.9 904.6,723.7 905.9,723.0 907.2,724.3 908.5,722.7 909.8,724.2 911.1,724.3 912.4,722.0 913.7,722.5 915.0,723.5 916.3,724.1 917.6,722.1 918.9,723.2 920.2,723.2 921.4,722.6 922.7,724.2 924.0,724.0 925.2,723.0 926.5,722.1 927.7,722.6 929.0,723.0 930.3,722.8 931.5,722.5 932.8,721.9 934.1,722.6 935.3,721.0 936.6,722.6 937.8,724.3 939.1,724.1 940.4,723.7 941.6,724.9 942.9,723.0 944.2,724.9 945.5,724.9 946.8,724.2 948.2,727.2 949.5,725.5 950.9,725.9 952.1,727.3 953.3,727.5 954.6,726.5 955.8,727.4 957.0,726.6 958.2,726.7 959.5,724.5 960.7,724.9 961.9,724.1 963.1,725.1 964.3,724.6 965.6,725.5 966.9,724.2 968.1,725.3 969.4,725.0 970.7,727.4 971.9,726.0 973.2,726.8 974.4,726.3 975.6,726.6 976.7,725.3 977.8,725.4 979.0,724.4 980.3,725.2 981.5,726.0 982.7,725.5 983.9,724.0 985.2,726.0 986.4,724.8 987.6,725.3 988.8,726.2 990.1,725.9 991.3,726.3 992.5,725.8 993.7,726.3 994.9,727.3 996.2,728.8 997.4,728.5 998.6,727.2 999.8,727.4 1001.1,727.1 1002.3,728.3 1003.5,728.9 1004.7,727.4 1006.0,726.8 1007.2,728.2 1008.4,727.7 1009.6,727.0 1010.9,727.3 1012.1,726.2 1013.3,726.4 1014.5,727.5 1015.8,727.2 1017.0,727.8 1018.2,727.1 1019.4,727.4 1020.6,726.2 1021.7,727.3 1022.9,728.2 1024.1,729.3 1025.3,729.5 1026.5,730.0 1027.7,728.2 1029.0,730.0 1030.2,728.6 1031.4,728.4 1032.6,730.3 1033.8,728.2 1035.0,728.8 1036.4,730.4 1037.8,729.3 1039.2,729.6 1040.4,729.4 1041.6,730.2 1042.8,729.4 1044.0,728.7 1045.1,728.8 1046.5,727.7 1047.8,730.3 1049.2,729.7 1050.5,727.6 1051.9,727.6 1053.1,726.8 1054.4,728.3 1055.7,727.2 1056.9,728.4 1058.2,727.4 1059.4,728.9 1060.7,728.4 1062.0,728.3 1063.2,730.5 1064.4,727.0 1065.6,729.1 1066.8,728.8 1068.0,727.2 1069.2,731.1 1070.4,729.6 1071.6,729.2 1072.8,729.2 1074.0,729.8 1075.2,728.6 1076.4,728.0 1077.6,728.5 1078.8,728.5 1080.1,729.3 1081.3,728.8 1082.6,729.6 1083.8,730.1 1085.1,730.5 1086.4,732.2 1087.8,733.3 1089.2,730.8 1090.6,728.8 1091.8,729.9 1093.0,728.5 1094.2,729.3 1095.4,728.9 1096.6,727.9 1097.8,727.6 1099.0,729.3 1100.1,730.2 1101.2,730.6 1102.4,731.0 1103.6,729.1 1104.9,730.0 1106.1,727.3 1107.4,727.1 1108.6,727.7 1109.8,725.6 1111.0,728.5 1112.2,728.5 1113.4,729.0 1114.6,728.0 1115.8,728.3 1116.9,728.4 1118.1,730.0 1119.2,731.0 1120.3,732.8 1121.4,729.2 1122.6,727.1 1123.9,726.0 1125.2,728.1 1126.6,725.3 1127.9,726.8 1129.3,726.6 1130.7,725.3 1132.1,729.0 1133.5,731.0 1134.9,731.2 1136.3,725.3 1137.7,726.6 1138.9,726.4 1140.1,725.5 1141.3,727.2 1142.5,730.0 1143.7,728.9 1144.9,729.6 1146.1,729.6 1147.8,732.2 1149.2,734.7 1150.6,729.2 1152.0,728.8 1153.1,730.5 1154.2,731.3 1155.4,732.7 1156.5,730.9 1157.7,727.7 1158.9,733.8 1160.1,728.4 1161.3,729.6 1162.4,732.6 1163.6,728.7 1164.8,732.2 1166.0,734.0 1167.2,733.8 1168.6,734.3 1170.0,727.7 1171.4,728.8 1172.7,726.0 1174.1,727.1 1175.4,723.9 1176.7,731.1 1178.1,727.9 1179.4,731.1 1180.6,737.2 1181.9,731.0 1183.1,720.4 1184.3,722.3 1185.4,721.2 1186.5,726.3 1187.8,724.4 1189.0,727.7 1190.3,725.3 1191.6,726.3 1193.0,725.8 1194.4,736.3 1195.8,735.5 1196.9,730.1 1198.0,725.1 1199.1,718.7 1200.3,719.7 1201.4,722.2 1202.5,726.3 1203.6,730.5 1204.7,733.4 1205.9,735.5 1207.3,729.7 1208.7,722.6 1210.1,719.5 1211.3,718.9 1212.6,722.1 1213.9,723.6 1215.1,722.9 1216.5,726.3 1217.9,724.6 1219.3,723.7 1220.0,722.6 1221.2,723.0 1222.4,722.6 1223.5,728.5 1224.7,726.3 1225.9,726.8 1227.0,728.8 1228.1,729.7 1229.3,732.7 1230.4,723.3 1231.4,713.3 1232.6,716.3 1233.7,720.9 1234.9,719.9 1236.0,723.4 1237.1,724.2 1238.2,722.5 1239.4,719.2 1240.5,722.9 1241.6,723.5 1242.7,731.0 1244.4,713.3 1245.6,715.8 1246.8,718.1 1247.9,718.8 1249.1,722.5 1250.3,724.3 1251.4,722.8 1252.5,719.7 1253.7,715.0 1254.8,717.6 1255.9,726.0 1257.0,731.0 1258.4,725.8 1259.8,718.7 1261.2,717.5 1262.6,714.8 1264.0,718.4 1265.4,714.2 1267.1,729.3 1268.5,704.1 1269.6,702.0 1270.7,705.8 1271.9,708.5 1273.0,709.1 1274.4,718.5 1275.8,720.6 1277.2,730.2 1278.3,720.9 1279.5,710.5 1280.6,702.4 1282.0,706.4 1283.4,708.3 1284.8,710.8 1286.2,716.8 1287.6,724.2 1289.0,728.5 1290.7,695.7 1292.2,690.6 1293.7,688.1 1294.9,694.9 1296.0,704.9 1297.1,716.0 1298.3,719.2 1299.4,696.5 1300.4,683.0 1301.7,687.9 1302.9,701.3 1304.2,705.8 1305.3,708.6 1306.4,702.8 1307.5,702.4 1308.8,687.7 1310.0,680.5 1311.4,680.2 1312.8,679.6 1314.2,677.1 1315.4,689.9 1316.5,696.7 1317.6,707.4 1318.7,691.5 1319.9,673.9 1321.0,657.8 1322.1,658.1 1323.2,655.4 1324.3,654.4 1325.6,659.6 1326.9,669.5 1328.1,671.1 1329.4,679.7 1330.9,662.9 1332.4,649.4 1333.9,666.9 1335.3,677.1 1336.5,686.0 1337.8,695.7 1339.1,699.6 1340.3,704.6 1341.6,709.4 1342.9,714.2 1344.1,722.3 1345.4,726.2 1346.6,732.1 1347.9,736.1 1349.2,742.5 1350.4,744.6 1351.7,752.2 1353.0,757.9 1354.1,760.5 1355.2,766.2 1356.3,769.7 1357.7,767.6 1359.1,768.9 1360.5,766.4 1361.9,763.0 1363.3,762.6 1364.7,760.5 1365.9,762.9 1367.0,764.4 1368.1,766.4 1369.5,754.6 1370.9,763.4 1372.3,772.3 1373.6,767.3 1374.8,763.0 1376.1,773.4 1377.3,783.7 1378.5,794.1 1380.2,761.3 1381.6,760.4 1383.0,763.3 1384.4,764.4 1385.8,764.7 1387.0,770.7 1388.3,778.1 1389.4,780.2 1390.5,779.7 1391.7,782.4 1392.0,741.1 1393.5,739.3 1395.0,739.4 1396.4,757.9 1397.8,751.9 1399.2,746.2 1400.4,751.8 1401.5,752.9 1402.6,757.9 1403.9,749.8 1405.1,739.4 1406.4,737.4 1407.7,738.5 1408.9,738.3 1410.2,739.4 1411.4,753.1 1412.7,769.7 1413.5,713.3 1415.0,718.5 1416.4,723.1 1417.8,729.3 1419.0,725.4 1420.3,723.4 1421.8,732.8 1423.3,746.2 1424.7,738.8 1426.2,728.5 1427.6,725.9 1429.0,723.7 1430.4,720.9 1431.5,724.4 1432.6,726.4 1433.7,729.3 1435.0,714.7 1436.3,702.4 1437.5,706.7 1438.8,715.9 1440.1,728.2 1441.3,737.7 1442.6,750.2 1443.8,763.0 1445.1,771.9 1446.4,781.5 1447.6,785.8 1448.9,792.5 1450.3,789.3 1451.7,783.7 1453.1,778.1 1454.5,775.0 1455.9,772.0 1457.3,769.7 1459.0,754.6 1460.3,752.2 1461.5,753.2 1462.8,752.7 1464.0,750.4 1465.2,753.9 1466.3,754.9 1467.4,759.6 1468.8,754.7 1470.3,748.7 1471.6,752.8 1472.8,754.7 1474.1,757.9 1475.3,762.0 1476.4,764.2 1477.5,768.0 1478.6,771.1 1479.7,770.6 1480.9,773.1 1482.1,770.5 1483.4,767.9 1484.7,765.5 1485.9,762.2 1487.2,760.6 1488.4,759.1 1489.7,758.2 1491.0,757.1 1492.4,760.0 1493.8,762.2 1495.2,764.7 1496.3,769.6 1497.4,773.5 1498.5,778.1 1499.8,780.0 1501.1,780.6 1502.3,782.7 1503.6,784.0 1504.9,776.9 1506.1,769.7 1507.4,761.8 1508.6,752.9 1509.8,750.7 1510.9,749.6 1512.0,748.7 1513.4,749.3 1514.8,751.6 1516.2,752.9 1517.7,759.5 1519.2,766.4 1520.4,766.2 1521.5,765.5 1522.7,764.7 1523.8,764.7 1525.0,773.7 1526.3,781.5 1527.4,787.5 1528.6,793.1 1529.7,800.0 1530.9,803.6 1532.1,807.1 1533.4,810.1 1534.7,809.3 1535.9,807.9 1537.2,806.9 1538.5,806.8 1539.8,805.1 1541.1,802.2 1542.5,799.3 1543.8,796.4 1545.2,793.2 1546.5,791.6 1547.9,790.7 1549.2,789.3 1550.5,789.5 1551.9,787.6 1553.2,786.6 1554.6,785.6 1555.9,784.9 1557.3,783.4 1558.6,783.2 1560.0,782.4 1561.4,778.4 1562.8,773.2 1564.2,769.7 1565.4,764.5 1566.7,757.9 1568.0,757.5 1569.2,755.9 1570.5,754.9 1571.8,753.7 1573.0,752.9 1574.3,752.7 1575.5,751.1 1576.8,750.7 1578.1,750.3 1579.3,749.2 1580.9,748.2 1582.4,746.8 1583.6,744.6 1584.8,742.3 1585.9,739.8 1587.3,739.6 1588.8,742.0 1590.2,742.6 1591.6,749.1 1593.0,753.8 1594.0,762.7 1595.1,772.1 1596.5,781.9 1597.9,791.7 1599.3,799.7 1600.7,808.5 1602.1,813.8 1603.5,821.2 1604.9,824.9 1606.3,827.6 1607.7,831.0 1609.1,837.1 1610.5,843.6 1611.7,847.6 1612.8,850.8 1614.0,854.8 1615.2,857.1 1616.5,858.6 1617.7,859.1 1618.9,861.8 1620.3,865.5 1621.7,867.9 1623.1,870.2 1624.5,872.3 1625.9,875.6 1627.3,878.7 1628.5,880.2 1629.8,881.4 1631.0,883.0 1632.2,884.3 1633.5,884.3 1634.7,884.8 1635.9,884.7 1637.1,885.7 1638.5,887.7 1639.9,890.5 1641.3,892.7 1642.5,895.5 1643.7,898.5 1644.9,901.1 1646.1,899.8 1647.3,899.1 1648.5,896.8 1649.8,895.5 1651.2,891.4 1652.6,887.1 1654.0,884.5 1655.4,883.6 1656.8,881.5 1657.9,878.4 1659.1,875.5 1660.3,871.6 1661.3,875.3 1662.4,878.7 1663.4,888.8 1664.5,898.3 1665.5,907.0 1666.6,913.7 1668.0,918.4 1669.4,923.5 1670.8,924.7 1672.2,926.1 1673.6,927.7 1674.8,928.1 1675.9,928.3 1677.1,927.0 1678.3,927.0 1679.4,927.4 1680.6,927.7 1681.8,926.3 1683.1,926.1 1684.3,925.2 1685.5,923.5 1686.8,921.9 1688.0,918.6 1689.2,917.7 1690.4,915.1 1691.8,914.2 1693.2,914.1 1694.6,914.0 1696.0,913.7 1697.4,914.0 1698.8,913.4 1700.3,912.7 1701.7,912.3 1703.1,915.9 1704.5,919.3 1705.9,923.5 1707.3,927.7 1708.7,929.6 1710.1,932.2 1711.5,934.7 1712.9,940.5 1714.3,946.0 1715.5,947.3 1716.8,950.2 1718.1,947.6 1719.3,944.3 1720.6,943.2 1721.6,939.3 1722.7,934.7 1724.1,931.6 1725.5,928.4 1726.7,929.9 1727.8,932.7 1729.0,934.7 1730.4,950.2 1731.8,951.9 1733.2,955.1 1734.6,953.0 1736.0,950.2 1737.4,940.4 1738.8,939.0 1740.2,939.0 1741.5,939.7 1742.7,939.6 1743.9,940.8 1745.1,941.8 1746.5,941.3 1747.9,940.3 1749.3,940.4 1750.7,938.4 1752.1,938.3 1753.5,937.6 1755.0,936.1 1756.4,934.8 1757.8,935.0 1759.2,933.3 1760.3,932.5 1761.5,932.5 1762.7,931.9 1764.1,924.9 1765.2,925.5 1766.4,925.2 1767.6,926.3 1769.0,928.9 1770.4,930.5 1771.8,929.0 1773.2,927.4 1774.6,925.6 1776.0,925.8 1777.4,925.4 1778.8,925.4 1780.2,924.9 1781.6,925.8 1783.0,927.7 1784.2,925.6 1785.3,922.3 1786.5,919.3 1787.6,916.7 1788.6,915.1 1789.8,916.8 1791.1,919.2 1792.3,921.8 1793.5,924.2 1794.7,924.0 1795.9,922.7 1797.0,922.1 1798.1,919.4 1799.1,915.1 1800.3,913.3 1801.5,914.1 1802.6,912.3 1804.0,915.3 1805.4,917.9 1806.6,920.4 1807.8,921.4 1808.9,924.9 1810.2,925.6 1811.4,926.6 1812.6,927.8 1813.9,929.1 1815.3,927.9 1816.7,925.8 1818.1,924.9 1819.5,925.2 1820.9,924.1 1822.3,924.9 1823.7,924.7 1825.1,923.1 1826.5,922.8 1827.9,923.4 1829.3,924.0 1830.7,923.1 1832.1,923.5 1833.5,925.0 1834.9,926.9 1836.3,929.1 1837.7,930.2 1839.1,933.8 1840.5,934.7 1841.7,937.0 1842.8,937.9 1844.0,940.4 1845.2,943.0 1846.3,944.5 1847.5,946.7 1848.7,944.5 1849.9,942.9 1851.0,940.4 1852.4,933.6 1853.8,926.3 1855.0,923.9 1856.2,920.1 1857.3,917.9 1858.4,917.2 1859.4,916.5 1860.7,918.8 1862.0,921.6 1862.9,926.6 1863.9,933.0 1864.9,936.5 1866.0,941.8 1867.1,944.4 1868.3,941.3 1869.6,938.1 1870.6,934.4 1871.7,931.8 1872.8,928.0 1873.8,929.5 1874.9,929.1 1875.9,929.2 1877.2,932.8 1878.4,934.4 1879.7,937.5 1881.0,934.6 1882.2,931.8 1883.2,927.9 1884.1,924.2 1885.4,921.3 1886.7,919.9 1887.9,917.8 1889.0,918.3 1890.0,916.7 1891.1,917.2 1892.2,917.6 1893.3,919.3 1894.4,919.5 1895.5,920.4 1896.8,929.2 1897.8,931.9 1898.9,934.7 1900.0,936.8 1900.9,942.4 1901.9,946.9 1902.8,952.0 1903.7,958.3 1904.7,964.0 1905.6,968.5 1906.3,981.1 1907.5,991.2 1908.6,1000.1 1909.9,996.6 1911.3,993.8 1912.6,992.0 1913.9,990.0 1915.1,989.2 1916.4,989.5 1917.7,989.3 1918.9,988.7 1920.2,984.5 1921.5,982.4 1922.7,980.7 1924.0,979.3 1925.3,977.3 1926.5,976.0 1927.8,976.3 1929.1,974.8 1930.3,975.6 1931.6,975.8 1932.8,976.1 1933.9,975.9 1935.0,977.0 1936.0,977.3 1937.3,974.5 1938.5,972.3 1939.6,972.8 1940.8,973.5 1941.9,975.0 1943.0,976.1 1944.2,976.7 1945.5,977.1 1946.8,977.0 1948.0,977.3 1949.3,981.4 1950.6,984.9 1951.8,989.6 1953.1,993.8 1954.4,993.7 1955.6,994.7 1956.9,995.2 1958.2,996.3 1959.2,994.8 1960.3,994.4 1961.3,993.8 1962.6,990.6 1963.8,988.7 1964.9,991.6 1966.0,993.2 1967.0,995.0 1968.1,996.7 1969.1,998.3 1970.2,998.8 1971.4,996.8 1972.7,996.2 1974.0,996.3 1975.2,993.2 1976.5,990.0 1977.8,990.9 1979.0,992.6 1980.3,993.8 1981.6,1001.4 1982.6,1001.8 1983.7,1001.8 1984.7,1002.6 1986.0,1005.9 1987.3,1009.0 1988.5,1011.7 1989.8,1014.0 1991.0,1008.4 1992.3,1003.9 1993.4,1003.1 1994.4,1001.3 1995.5,1000.7 1996.5,1001.4 1997.6,1002.7 1998.6,1003.9 1999.7,1004.4 2000.7,1004.8 2001.8,1005.2 2003.1,1016.6 2004.0,1022.8 2005.0,1029.2 2006.2,1046.9 2007.5,1048.6 2008.8,1049.2 2010.0,1050.7 2011.3,1052.2 2012.6,1053.9 2013.8,1055.8 2014.9,1057.5 2015.9,1060.8 2017.0,1062.1 2018.3,1058.4 2019.5,1054.5 2020.6,1054.4 2021.6,1052.8 2022.7,1052.0 2023.9,1054.0 2025.2,1055.8 2026.5,1062.3 2027.7,1071.0 2029.0,1069.9 2030.3,1068.2 2031.5,1065.9 2032.8,1063.6 2034.1,1062.1 2035.0,1057.0 2036.0,1052.0 2037.2,1052.2 2038.5,1054.5 2039.8,1052.7 2041.0,1049.5 2042.1,1052.7 2043.1,1057.1 2044.2,1059.6 2045.1,1066.5 2046.1,1074.8 2047.0,1081.1 2048.0,1087.4 2048.9,1092.2 2049.9,1095.0 2050.9,1096.5 2052.0,1098.8 2053.0,1100.1 2054.1,1087.4"/>
<polyline class="curve" stroke="#006fe0" style="stroke-width:6.2;stroke-linejoin:round" points="1225.9,726.8 1227.0,728.8 1228.1,729.7 1229.3,732.7 1230.4,723.3 1231.4,713.3 1232.6,716.3 1233.7,720.9 1234.9,719.9 1236.0,723.4 1237.1,724.2 1238.2,722.5 1239.4,719.2 1240.5,722.9 1241.6,723.5 1242.7,731.0 1244.4,713.3 1245.6,715.8 1246.8,718.1 1247.9,718.8 1249.1,722.5 1250.3,724.3 1251.4,722.8 1252.5,719.7 1253.7,715.0 1254.8,717.6 1255.9,726.0 1257.0,731.0 1258.4,725.8 1259.8,718.7 1261.2,717.5 1262.6,714.8 1264.0,718.4 1265.4,714.2 1267.1,729.3 1268.5,704.1 1269.6,702.0 1270.7,705.8 1271.9,708.5 1273.0,709.1 1274.4,718.5 1275.8,720.6 1277.2,730.2 1278.3,720.9 1279.5,710.5 1280.6,702.4 1282.0,706.4 1283.4,708.3 1284.8,710.8 1286.2,716.8 1287.6,724.2 1289.0,728.5 1290.7,695.7 1292.2,690.6 1293.7,688.1 1294.9,694.9 1296.0,704.9 1297.1,716.0 1298.3,719.2 1299.4,696.5 1300.4,683.0 1301.7,687.9 1302.9,701.3 1304.2,705.8 1305.3,708.6 1306.4,702.8 1307.5,702.4 1308.8,687.7 1310.0,680.5 1311.4,680.2 1312.8,679.6 1314.2,677.1 1315.4,689.9 1316.5,696.7 1317.6,707.4 1318.7,691.5 1319.9,673.9 1321.0,657.8 1322.1,658.1 1323.2,655.4 1324.3,654.4 1325.6,659.6 1326.9,669.5 1328.1,671.1 1329.4,679.7 1330.9,662.9 1332.4,649.4 1333.9,666.9"/>
<polyline class="curve" stroke="#00ac65" points="141.7,459.8 142.9,462.5 144.0,459.9 145.2,465.8 146.4,461.3 147.6,461.4 148.9,465.8 150.2,463.3 151.4,466.0 152.6,462.3 153.7,458.7 154.8,456.4 156.0,458.5 157.3,458.6 158.5,462.3 159.9,467.3 161.2,465.1 162.6,463.5 163.9,469.0 165.2,467.3 166.5,467.8 167.8,469.4 169.0,472.2 170.3,473.2 171.6,472.4 173.0,472.2 174.3,467.9 175.7,466.6 177.0,464.0 178.4,465.5 179.8,464.8 181.2,469.0 182.3,474.7 183.4,481.6 184.9,476.6 186.3,473.2 187.5,473.3 188.6,473.0 189.8,474.4 191.0,472.8 192.2,476.6 193.4,475.1 194.5,473.8 195.7,475.8 196.9,475.3 198.1,474.9 199.2,481.0 200.4,473.9 201.6,478.3 202.8,481.0 204.0,479.1 205.2,478.2 206.5,476.6 208.2,481.6 209.6,482.6 211.0,481.1 212.4,480.8 213.6,482.4 214.9,488.4 216.3,487.4 217.7,488.5 219.1,484.2 220.5,484.4 221.9,484.0 223.3,481.6 224.7,487.8 226.1,492.3 227.5,492.6 228.9,494.9 230.3,489.4 231.7,486.7 233.1,485.1 234.5,495.2 235.9,497.6 237.1,497.2 238.2,495.5 239.3,491.8 240.6,492.9 242.0,493.6 243.3,492.4 244.7,497.7 246.0,495.1 247.2,500.7 248.4,499.3 249.6,501.2 250.7,500.7 251.9,499.3 253.3,501.6 254.7,501.5 256.1,504.4 257.4,507.1 258.7,507.5 259.9,505.1 261.2,508.6 262.4,508.3 263.7,504.4 265.0,508.0 266.2,505.2 267.5,501.9 268.8,503.6 270.0,509.9 271.3,509.4 272.4,512.4 273.5,512.1 274.6,516.2 276.0,517.5 277.3,517.9 278.7,516.1 280.0,518.0 281.4,517.8 282.7,513.4 284.1,516.7 285.4,513.1 286.8,517.6 288.1,517.0 288.9,523.7 290.1,522.6 291.3,522.3 292.5,523.7 293.7,529.4 294.8,527.1 296.0,528.1 297.2,526.9 298.4,530.1 299.6,528.1 300.7,529.6 302.1,530.4 303.5,529.9 304.9,524.6 306.2,524.9 307.5,522.7 308.7,526.9 310.0,528.8 311.4,531.9 312.8,533.8 314.2,537.2 315.6,536.5 317.0,534.8 318.4,533.8 319.7,534.6 321.1,533.2 322.4,534.3 323.8,537.8 325.1,534.7 326.3,533.6 327.5,533.1 328.7,540.8 329.9,537.7 331.1,537.2 332.3,539.0 333.5,537.2 334.8,537.9 336.0,537.1 337.2,538.2 338.4,534.5 339.6,531.0 340.8,531.0 342.0,534.7 343.4,536.4 344.8,535.4 346.2,539.7 347.3,543.9 348.5,538.6 349.7,542.5 350.9,545.0 352.1,544.8 353.5,545.2 354.9,539.7 356.3,538.9 357.5,541.6 358.8,535.3 360.1,536.3 361.3,536.4 362.6,533.0 363.8,534.7 365.0,534.7 366.1,536.6 367.2,536.4 368.5,532.8 369.7,532.2 371.0,534.8 372.3,533.8 373.5,534.1 374.8,535.5 376.0,536.5 377.3,537.2 378.7,535.4 380.0,533.7 381.3,535.2 382.7,533.6 384.0,533.8 385.3,534.4 386.6,535.9 387.8,534.4 389.1,534.7 390.2,534.5 391.3,537.0 392.5,537.2 393.7,534.9 395.0,537.9 396.2,531.6 397.5,530.1 398.8,531.5 400.0,531.3 401.2,530.3 402.4,534.0 403.6,535.3 404.7,532.6 405.9,535.5 407.2,535.4 408.4,534.1 409.7,530.4 411.0,532.9 412.2,530.5 413.5,529.6 414.9,533.0 416.3,534.7 417.7,538.0 418.9,538.6 420.1,537.7 421.3,536.6 422.5,540.2 423.7,538.8 424.9,536.3 426.1,538.0 427.3,538.4 428.5,537.8 429.7,537.7 430.9,537.5 432.1,536.7 433.3,534.5 434.5,535.5 435.9,536.1 437.2,534.6 438.6,535.6 439.9,534.8 441.3,535.5 442.5,534.4 443.8,532.2 445.0,532.6 446.3,530.5 447.7,530.6 449.0,531.2 450.4,530.9 451.7,529.4 453.0,529.6 454.4,528.0 455.7,526.5 457.1,527.1 458.4,524.2 459.8,524.6 461.0,524.2 462.3,523.9 463.6,523.1 464.8,525.2 466.1,524.3 467.3,523.7 468.5,522.6 469.7,522.0 470.9,519.0 472.1,519.8 473.2,517.0 474.5,517.7 475.8,519.4 477.0,519.5 478.3,520.4 479.4,519.8 480.5,519.1 481.7,519.5 482.8,523.0 483.9,524.9 485.0,527.9 486.4,527.8 487.7,528.2 489.1,525.7 490.4,526.3 491.8,524.6 493.1,523.1 494.4,522.4 495.8,521.7 497.1,521.9 498.5,520.4 500.0,521.2 501.3,523.6 502.5,527.8 503.8,527.8 505.0,531.3 506.2,532.8 507.4,535.8 508.6,537.0 509.8,539.7 511.1,538.8 512.5,537.8 513.8,538.6 515.1,535.5 516.4,535.5 517.7,535.6 518.9,533.4 520.2,533.0 521.0,528.8 522.2,529.2 523.4,527.4 524.6,525.8 525.8,526.5 526.9,525.4 528.3,526.1 529.6,524.7 531.0,522.9 532.3,524.0 533.7,522.1 534.9,522.3 536.2,521.2 537.4,519.9 538.7,520.9 540.0,521.2 541.2,520.4 542.5,519.5 543.8,520.6 545.0,522.6 546.3,522.6 547.5,523.4 548.8,522.9 550.1,526.2 551.3,524.6 552.6,527.4 553.9,528.8 555.1,528.8 556.4,530.5 557.6,529.1 558.7,529.1 559.9,527.2 561.1,527.0 562.3,525.4 563.6,525.0 565.0,521.2 566.3,521.3 567.7,520.5 569.0,518.7 570.3,517.2 571.5,516.7 572.8,515.0 574.1,515.3 575.3,514.1 576.5,515.1 577.7,514.5 578.9,515.6 580.1,516.7 581.3,514.7 582.5,515.3 583.8,514.3 585.1,513.3 586.4,514.5 587.7,514.4 589.0,514.6 590.3,515.8 591.6,512.8 592.9,515.6 594.2,513.6 595.6,513.0 596.9,512.1 598.3,512.3 599.6,512.3 601.0,512.0 602.2,511.6 603.4,512.1 604.6,511.4 605.8,513.9 607.0,512.8 608.2,513.0 609.4,512.0 610.7,510.3 612.1,509.1 613.4,509.9 614.8,506.9 616.1,507.7 617.4,507.4 618.7,508.8 619.9,509.0 621.2,508.6 622.6,508.9 624.0,507.0 625.4,506.1 626.7,507.1 628.1,508.3 629.4,507.5 630.8,508.0 632.1,508.6 633.5,506.4 634.9,507.7 636.3,505.2 637.7,507.8 639.1,507.3 640.5,508.6 641.7,507.5 642.9,507.8 644.1,505.5 645.2,504.5 646.4,504.4 647.6,503.5 648.8,502.5 650.0,504.3 651.1,503.0 652.3,502.7 653.5,502.8 654.7,501.7 655.8,504.8 657.0,503.6 658.2,502.7 659.5,503.5 660.7,503.4 662.0,501.9 663.3,501.8 664.5,502.1 665.8,502.3 667.0,503.5 668.3,502.7 669.5,503.6 670.7,501.3 671.9,501.0 673.1,500.5 674.3,502.5 675.5,499.6 676.7,500.2 678.1,501.8 679.5,501.1 680.9,501.9 682.1,501.4 683.3,502.2 684.5,501.6 685.6,503.6 686.8,501.9 688.2,502.3 689.5,502.8 690.9,498.8 692.2,498.9 693.5,499.3 694.8,498.2 696.0,499.8 697.2,499.0 698.4,499.9 699.6,499.7 700.8,501.4 702.0,501.9 703.3,501.8 704.7,500.4 706.0,501.9 707.3,501.3 708.7,500.2 710.0,501.2 711.2,498.8 712.5,501.3 713.7,501.3 715.0,499.0 716.3,500.3 717.5,501.2 718.8,500.2 720.0,501.3 721.2,500.3 722.4,501.6 723.6,499.0 724.8,502.1 726.0,500.0 727.2,500.2 728.6,499.0 729.9,498.9 731.2,499.0 732.6,496.8 733.9,498.5 735.3,498.5 736.6,498.5 738.0,497.1 739.3,496.1 740.7,496.8 741.9,497.6 743.2,495.6 744.5,497.4 745.7,498.5 747.1,498.3 748.4,497.4 749.8,495.8 751.1,495.3 752.5,495.1 753.7,494.0 754.9,495.8 756.1,494.8 757.3,494.8 758.5,495.3 759.7,494.3 760.9,494.3 762.1,494.8 763.3,494.9 764.5,494.6 765.7,494.4 766.9,494.1 768.1,497.8 769.3,496.0 770.5,497.0 771.7,494.9 772.9,495.7 774.1,494.7 775.3,494.9 776.5,494.5 777.7,494.3 778.9,492.6 780.1,493.1 781.3,495.5 782.5,493.5 783.7,495.4 784.9,493.7 786.1,494.3 787.3,495.4 788.5,496.0 789.7,494.6 790.9,495.2 792.1,493.3 793.3,494.6 794.5,494.3 795.8,494.3 797.1,495.7 798.3,496.2 799.6,495.4 800.8,496.0 802.1,496.8 803.4,495.3 804.6,495.7 805.9,495.9 807.2,496.5 808.4,493.6 809.7,493.4 810.9,493.7 812.2,493.8 813.5,495.1 814.7,492.5 816.0,492.2 817.3,493.7 818.5,491.8 819.8,492.6 821.0,492.9 822.2,490.9 823.4,491.7 824.6,491.8 825.8,490.6 827.0,492.5 828.2,491.8 829.5,492.5 830.7,491.7 832.0,491.9 833.2,493.4 834.4,491.3 835.6,492.4 836.8,493.0 838.0,490.7 839.3,490.8 840.5,489.1 841.7,489.2 842.9,490.0 844.2,488.8 845.4,490.5 846.7,489.1 848.0,490.1 849.2,490.9 850.6,494.6 852.0,495.7 853.4,497.6 854.7,498.5 856.0,502.0 857.2,504.0 858.5,505.2 860.0,506.9 861.3,508.4 862.5,509.9 863.8,510.4 865.0,512.0 866.5,512.7 867.9,511.8 869.3,511.1 870.5,504.5 871.8,500.2 873.0,499.1 874.3,498.5 875.6,505.1 876.8,507.7 878.2,508.8 879.5,505.8 880.9,503.9 882.2,505.4 883.6,504.4 884.8,505.2 886.0,505.8 887.2,504.5 888.4,505.1 889.6,505.9 890.8,505.1 892.0,504.4 893.1,502.8 894.2,498.3 895.3,497.6 896.7,496.7 898.0,496.4 899.4,495.6 900.7,496.0 902.1,495.1 903.5,493.5 904.9,492.7 906.3,491.8 907.6,492.0 908.9,492.9 910.3,490.4 911.6,490.4 912.9,490.3 914.2,490.9 915.5,490.9 916.7,491.0 917.9,491.3 919.1,490.4 920.3,490.4 921.6,489.7 922.8,490.9 924.0,490.1 925.2,489.4 926.5,488.7 927.7,487.3 929.0,487.5 930.3,488.1 931.5,488.9 932.8,487.3 934.1,486.3 935.3,487.7 936.6,488.2 937.8,486.5 939.1,487.4 940.4,487.9 941.6,488.1 942.9,488.2 944.2,488.4 945.5,488.2 946.8,487.8 948.1,489.4 949.4,487.9 950.7,488.2 952.0,487.1 953.3,488.2 954.6,488.9 955.9,487.9 957.2,488.3 958.5,487.9 959.7,487.8 961.0,486.7 962.3,485.7 963.6,487.9 964.9,485.9 966.2,487.0 967.5,485.2 968.7,486.7 970.0,487.0 971.3,486.4 972.6,487.0 973.9,486.6 975.2,486.5 976.5,485.1 977.8,486.7 979.1,486.6 980.3,486.7 981.6,486.5 982.9,488.8 984.1,487.3 985.4,488.2 986.6,487.0 987.9,486.7 989.2,487.1 990.4,486.1 991.7,485.6 993.0,485.6 994.2,486.9 995.5,485.9 996.7,485.5 998.0,486.3 999.3,484.8 1000.5,486.7 1001.8,485.8 1003.1,485.9 1004.4,485.7 1005.7,485.1 1007.0,486.6 1008.3,486.3 1009.6,484.6 1010.9,485.9 1012.2,483.8 1013.5,483.6 1014.8,484.2 1016.1,483.3 1017.4,483.0 1018.6,483.6 1019.9,485.0 1021.1,484.0 1022.3,485.2 1023.5,484.3 1024.7,485.2 1025.9,486.0 1027.1,485.3 1028.3,484.2 1029.5,484.9 1030.7,482.9 1031.9,483.4 1033.1,483.8 1034.3,483.0 1035.5,484.0 1036.7,484.2 1038.1,483.3 1039.4,482.7 1040.8,482.6 1042.1,483.0 1043.5,482.5 1044.8,484.1 1046.1,483.8 1047.5,482.1 1048.8,483.8 1050.2,482.8 1051.5,483.4 1052.9,482.7 1054.2,481.9 1055.6,482.7 1056.9,482.8 1058.1,482.3 1059.4,483.7 1060.6,481.2 1061.8,480.9 1063.0,481.9 1064.3,481.7 1065.5,482.1 1066.7,481.0 1067.9,482.0 1069.2,483.9 1070.4,482.0 1071.5,483.2 1072.6,481.9 1073.7,480.5 1075.1,479.3 1076.4,480.8 1077.7,480.7 1079.0,480.5 1080.3,480.1 1081.6,480.2 1082.9,479.7 1084.2,479.2 1085.5,480.5 1086.9,480.6 1088.2,480.8 1089.6,479.0 1090.9,480.6 1092.3,478.3 1093.5,477.7 1094.8,475.1 1096.0,475.4 1097.3,475.8 1098.6,479.0 1099.8,478.9 1101.1,478.6 1102.4,479.1 1103.6,477.4 1104.9,478.5 1106.1,476.3 1107.4,475.4 1108.6,474.9 1109.8,475.8 1111.0,472.6 1112.2,475.5 1113.4,475.2 1114.6,477.5 1115.8,475.4 1117.2,476.2 1118.6,473.4 1120.0,474.1 1121.4,473.6 1122.7,472.9 1124.0,471.6 1125.3,473.7 1126.6,473.7 1128.0,472.8 1129.3,473.7 1130.7,474.7 1132.1,474.3 1133.5,475.8 1134.9,476.0 1136.3,472.3 1137.7,473.2 1138.9,474.9 1140.1,474.3 1141.3,473.8 1142.5,472.1 1143.7,475.9 1144.9,475.0 1146.1,474.1 1147.4,474.4 1148.6,474.5 1149.9,474.8 1151.2,472.4 1152.5,470.5 1153.9,471.7 1155.2,475.0 1156.5,473.9 1157.9,472.4 1159.2,472.0 1160.4,468.9 1161.7,472.1 1162.9,470.7 1164.2,469.5 1165.5,470.6 1166.7,474.1 1168.0,472.4 1169.3,470.0 1170.5,469.4 1171.8,470.2 1173.0,469.9 1174.2,468.6 1175.4,467.4 1176.6,470.3 1177.8,470.7 1178.9,469.0 1180.4,473.4 1181.8,474.1 1182.9,466.9 1184.0,464.8 1185.4,466.0 1186.8,466.0 1188.2,467.3 1189.5,468.6 1190.7,467.6 1192.0,467.5 1193.2,466.5 1194.4,471.1 1195.5,469.7 1196.6,471.5 1197.9,468.5 1199.1,462.3 1200.5,463.1 1201.9,463.3 1203.3,464.8 1204.6,468.5 1205.9,469.0 1207.0,468.1 1208.1,466.3 1209.2,461.4 1210.6,463.0 1212.0,459.8 1213.4,459.8 1214.7,460.3 1216.0,462.9 1217.2,463.4 1218.5,462.3 1220.0,461.4 1221.3,461.4 1222.5,460.9 1223.8,456.5 1225.0,458.9 1226.5,462.8 1227.9,465.7 1229.3,469.0 1230.5,459.2 1231.8,451.3 1233.2,454.1 1234.6,461.1 1236.0,462.3 1237.3,454.7 1238.5,456.4 1239.6,458.3 1240.8,461.2 1241.9,467.3 1243.0,462.9 1244.1,455.6 1245.2,452.2 1246.6,458.6 1248.1,455.3 1249.5,459.8 1250.9,454.3 1252.3,459.3 1253.7,455.6 1254.8,457.8 1255.9,465.3 1257.0,469.0 1258.4,467.8 1259.8,460.4 1261.2,457.2 1262.4,456.0 1263.5,457.3 1264.6,455.6 1265.7,462.3 1266.8,465.1 1268.0,470.7 1268.8,448.0 1270.2,447.8 1271.6,451.9 1273.0,452.2 1274.4,456.6 1275.8,465.4 1277.2,470.7 1278.5,462.6 1279.7,448.8 1281.2,448.9 1282.6,450.9 1284.0,452.2 1285.1,461.8 1286.2,460.6 1287.3,467.3 1289.0,472.4 1290.4,460.4 1291.8,449.6 1293.2,440.4 1294.6,450.1 1296.0,457.3 1297.4,464.0 1298.7,450.0 1299.9,437.0 1301.3,442.2 1302.7,452.0 1304.2,457.2 1305.6,460.5 1307.0,455.4 1308.4,457.2 1309.5,450.4 1310.6,442.2 1311.7,436.2 1312.8,433.8 1314.0,441.1 1315.1,438.7 1316.2,443.7 1317.3,454.8 1318.5,460.6 1319.7,441.2 1321.0,421.9 1322.2,425.8 1323.5,424.5 1324.8,428.8 1326.0,430.3 1327.2,436.1 1328.3,442.5 1329.4,452.2 1330.5,448.0 1331.6,438.6 1332.8,436.2 1333.9,449.3 1335.0,464.4 1336.1,479.1 1337.4,480.1 1338.7,488.6 1339.9,490.6 1341.2,496.0 1342.5,500.7 1343.9,502.5 1345.2,509.5 1346.6,512.3 1347.9,517.8 1349.2,520.5 1350.4,528.1 1351.7,532.1 1353.0,536.4 1354.5,538.2 1356.0,539.7 1357.2,536.4 1358.5,533.3 1359.7,527.9 1360.8,524.8 1361.9,524.1 1363.1,520.4 1364.2,522.3 1365.4,519.5 1366.6,517.0 1367.8,516.6 1368.9,516.2 1370.4,521.6 1371.8,522.8 1373.2,527.9 1374.6,527.1 1376.0,526.6 1377.4,523.7 1379.0,539.7 1380.7,511.1 1382.0,510.1 1383.3,510.6 1384.5,507.1 1385.8,509.4 1387.0,514.5 1388.3,516.3 1389.6,518.7 1390.8,518.7 1391.7,487.5 1393.1,486.0 1394.5,485.8 1395.9,484.2 1397.1,491.4 1398.4,497.6 1399.7,495.2 1400.9,490.9 1402.6,499.3 1403.9,493.2 1405.1,485.0 1406.3,489.2 1407.4,488.2 1408.5,492.6 1409.8,491.3 1411.0,485.9 1412.7,509.4 1413.9,464.0 1415.2,471.0 1416.5,477.7 1417.8,484.2 1419.0,482.2 1420.3,478.3 1421.7,487.4 1423.1,496.8 1424.7,492.3 1426.2,482.5 1427.6,479.7 1429.0,484.0 1430.4,482.5 1431.5,485.3 1432.6,489.8 1433.7,491.8 1434.9,490.8 1436.0,490.5 1437.1,488.4 1438.4,500.0 1439.6,511.1 1440.9,521.3 1442.2,529.6 1443.4,543.0 1444.7,556.6 1445.8,558.5 1446.9,564.8 1448.1,566.7 1449.2,563.7 1450.3,561.0 1451.4,558.2 1452.7,549.8 1453.9,543.1 1455.3,541.8 1456.7,536.4 1458.1,533.8 1459.3,535.0 1460.5,536.4 1461.7,536.4 1462.9,536.1 1464.0,536.4 1465.4,536.4 1466.8,539.6 1468.2,541.4 1469.9,530.5 1471.1,530.9 1472.3,532.7 1473.5,535.0 1474.6,535.4 1475.8,535.5 1477.1,534.1 1478.3,533.6 1479.6,535.1 1480.9,533.8 1482.0,530.7 1483.1,527.5 1484.2,523.7 1485.4,522.2 1486.5,521.4 1487.6,519.5 1488.7,519.7 1489.8,520.0 1491.0,520.4 1492.4,524.6 1493.8,528.9 1495.2,533.0 1496.6,537.1 1498.0,538.9 1499.4,543.1 1500.8,540.5 1502.2,538.8 1503.6,536.4 1504.7,529.1 1505.8,521.2 1507.0,514.5 1508.1,512.0 1509.2,507.6 1510.3,505.2 1511.7,507.5 1513.1,510.6 1514.5,512.0 1515.9,516.2 1517.3,519.8 1518.7,524.6 1520.1,525.2 1521.5,527.4 1522.9,527.9 1524.1,532.3 1525.2,538.3 1526.3,543.1 1527.4,549.0 1528.6,553.2 1529.7,559.9 1531.2,563.3 1532.7,567.5 1533.9,565.0 1535.2,562.9 1536.4,559.9 1537.7,556.6 1538.9,553.0 1540.2,549.8 1541.5,546.5 1542.6,542.1 1543.7,538.4 1544.8,534.7 1546.1,533.4 1547.3,532.3 1548.6,532.3 1549.9,531.3 1551.2,530.1 1552.6,528.1 1553.9,526.9 1555.3,524.0 1556.6,522.9 1558.0,520.3 1559.4,518.1 1560.8,514.5 1562.1,507.8 1563.3,501.0 1564.5,499.3 1565.6,498.1 1566.7,496.0 1568.1,496.7 1569.5,497.8 1570.9,499.3 1572.1,498.9 1573.3,499.3 1574.5,500.2 1575.6,500.1 1576.8,499.4 1578.2,498.6 1579.6,498.3 1581.0,497.0 1582.4,495.9 1583.8,494.6 1585.2,496.1 1586.6,495.2 1587.8,496.9 1589.0,501.3 1590.2,503.7 1591.6,515.0 1593.0,526.1 1594.4,537.2 1595.8,548.5 1596.8,558.1 1597.9,568.2 1599.3,574.9 1600.7,582.2 1602.1,587.3 1603.5,592.0 1604.9,595.0 1606.3,597.4 1607.7,599.0 1608.7,604.1 1609.8,610.2 1611.0,613.8 1612.1,616.0 1613.3,618.7 1614.7,619.7 1616.1,620.3 1617.5,623.0 1618.9,622.9 1620.3,624.1 1621.7,626.8 1623.1,628.5 1624.3,629.8 1625.5,630.7 1626.6,632.0 1627.8,632.7 1629.0,634.6 1630.1,635.5 1631.5,638.6 1632.9,640.3 1634.3,643.9 1635.7,648.5 1637.1,652.5 1638.5,657.9 1639.9,665.1 1641.3,671.9 1642.7,677.8 1644.2,684.6 1645.6,684.6 1647.0,683.8 1648.4,683.2 1649.5,680.7 1650.7,679.8 1651.9,677.6 1653.1,677.1 1654.3,679.4 1655.5,679.4 1656.8,680.4 1657.9,680.8 1659.1,681.8 1660.3,683.2 1661.2,690.1 1662.2,696.1 1662.4,712.9 1663.8,729.8 1664.9,738.8 1665.9,746.6 1667.3,759.2 1668.8,763.2 1670.2,767.6 1671.6,770.5 1673.0,774.6 1674.4,777.6 1675.8,777.8 1677.2,780.2 1678.6,783.5 1680.0,787.2 1681.4,790.3 1682.8,792.9 1683.8,795.7 1684.9,799.2 1686.3,798.6 1687.7,799.1 1689.1,798.5 1690.5,799.1 1691.9,799.2 1693.3,800.5 1694.7,802.0 1695.9,801.3 1697.0,798.5 1698.2,797.1 1699.6,791.5 1700.8,790.6 1701.9,791.0 1703.1,789.4 1704.2,792.7 1705.2,794.3 1706.3,795.1 1707.3,797.1 1708.7,793.3 1710.1,790.8 1711.5,790.2 1712.9,789.3 1714.3,788.7 1715.4,783.3 1716.4,777.4 1717.5,769.6 1718.5,763.4 1719.9,741.0 1721.0,734.9 1722.0,729.8 1723.5,724.1 1724.9,719.2 1726.3,721.0 1727.7,722.7 1728.7,728.4 1729.8,734.4 1730.9,740.3 1732.1,734.6 1733.3,729.8 1734.3,721.9 1735.4,714.3 1736.1,691.9 1737.5,685.6 1738.9,679.3 1740.0,677.6 1741.2,675.8 1742.4,673.7 1743.8,672.9 1745.2,673.7 1746.4,677.2 1747.5,680.2 1748.7,684.9 1750.1,680.9 1751.5,676.5 1752.2,662.4 1753.6,655.3 1755.0,650.0 1756.4,644.2 1757.8,636.9 1758.9,633.7 1760.1,628.4 1761.3,624.3 1762.3,622.2 1763.4,620.1 1764.8,621.7 1766.2,624.5 1767.6,627.1 1769.0,625.5 1770.4,622.6 1771.8,621.5 1773.2,617.2 1774.6,613.0 1776.0,612.6 1777.4,611.3 1778.8,610.2 1780.0,611.8 1781.1,613.1 1782.3,614.4 1783.5,611.0 1784.6,606.7 1785.8,601.8 1786.9,600.7 1787.9,599.0 1789.3,603.8 1790.7,606.8 1792.1,611.6 1793.5,606.8 1794.9,601.5 1796.3,596.2 1797.7,593.5 1799.1,591.3 1800.3,591.8 1801.5,592.7 1802.6,593.4 1803.8,597.3 1805.0,600.9 1806.1,604.6 1807.3,606.2 1808.5,608.0 1809.6,608.8 1811.1,607.2 1812.5,606.1 1813.9,604.6 1815.0,601.6 1816.2,598.6 1817.4,596.2 1818.5,595.9 1819.7,594.6 1820.9,594.1 1822.3,596.1 1823.7,596.4 1825.1,597.3 1826.5,597.6 1827.9,599.1 1829.3,600.1 1830.7,602.8 1832.1,603.2 1833.5,606.7 1834.9,610.1 1836.3,613.0 1837.7,616.6 1839.1,619.9 1840.5,624.3 1841.9,625.5 1843.3,627.4 1844.7,628.5 1845.9,626.0 1847.1,624.9 1848.2,622.9 1849.4,617.7 1850.6,611.4 1851.7,606.0 1853.1,604.5 1854.5,602.1 1855.9,599.0 1857.3,600.0 1858.7,600.4 1860.1,609.0 1861.4,619.6 1862.7,628.2 1864.3,630.3 1865.8,631.9 1867.3,627.9 1868.8,624.6 1870.7,613.6 1871.9,612.9 1873.1,611.8 1874.3,615.5 1875.5,617.4 1876.8,620.9 1878.0,624.7 1879.2,628.2 1880.4,625.1 1881.6,623.3 1882.8,619.7 1884.7,616.0 1885.9,618.5 1887.1,619.3 1888.3,620.9 1889.9,626.9 1891.4,633.1 1892.9,640.2 1894.4,647.7 1895.6,656.2 1896.9,663.5 1898.1,673.1 1899.3,681.8 1900.5,691.4 1901.7,700.1 1903.6,718.4 1905.4,736.6 1906.6,756.1 1907.8,753.0 1909.0,750.0 1910.9,735.4 1911.5,723.2 1912.7,721.2 1913.9,718.0 1915.1,715.9 1917.0,706.2 1918.2,701.4 1919.4,696.4 1920.6,692.2 1921.8,687.9 1923.1,685.3 1924.3,683.6 1925.5,681.8 1927.3,678.8 1928.8,681.6 1930.4,684.3 1931.6,685.1 1932.8,686.3 1934.0,687.2 1935.2,687.9 1936.8,683.8 1938.3,680.6 1939.8,683.8 1941.3,686.7 1942.5,687.3 1943.8,687.3 1945.0,688.1 1946.2,687.9 1947.7,692.4 1949.3,696.4 1950.5,700.0 1951.7,705.0 1952.9,702.2 1954.1,701.2 1955.3,697.7 1956.9,694.4 1958.4,691.6 1959.6,689.9 1960.8,687.9 1962.0,686.7 1963.1,685.2 1964.2,683.0 1965.6,688.7 1966.9,694.0 1968.1,701.0 1969.4,706.2 1970.6,712.6 1971.8,719.6 1973.0,723.5 1974.2,727.1 1975.4,730.5 1977.0,742.5 1978.6,754.1 1980.1,766.8 1981.2,773.1 1982.3,777.5 1983.6,774.6 1984.9,772.2 1986.0,769.2 1987.1,767.3 1988.1,764.7 1989.7,755.1 1991.1,751.5 1992.4,748.7 1993.5,749.4 1994.5,749.8 1995.6,749.8 1996.8,747.9 1998.1,745.4 1999.3,743.4 2000.4,747.6 2001.4,751.9 2002.5,767.9 2003.6,783.9 2005.2,793.4 2006.2,796.0 2007.3,797.2 2008.4,798.8 2009.7,797.4 2011.0,794.5 2012.1,788.1 2013.2,791.6 2014.2,794.5 2015.5,798.3 2016.9,802.0 2018.2,802.3 2019.5,802.0 2020.9,801.4 2022.2,800.9 2023.5,804.4 2024.9,808.4 2025.9,813.7 2027.0,819.0 2028.3,821.9 2029.7,826.4 2030.7,824.6 2031.8,823.4 2032.8,822.2 2033.9,818.3 2035.0,813.7 2036.3,812.0 2037.6,809.4 2039.0,813.3 2040.3,815.8 2041.9,822.2 2042.4,835.0 2044.0,847.7 2045.6,861.6 2046.7,864.7 2047.8,866.9 2049.3,853.1 2050.4,832.8 2051.5,831.2 2052.5,830.7 2053.6,847.7 2053.6,866.9"/>
<polyline class="curve" stroke="#00ac65" style="stroke-width:6.2;stroke-linejoin:round" points="1225.0,458.9 1226.5,462.8 1227.9,465.7 1229.3,469.0 1230.5,459.2 1231.8,451.3 1233.2,454.1 1234.6,461.1 1236.0,462.3 1237.3,454.7 1238.5,456.4 1239.6,458.3 1240.8,461.2 1241.9,467.3 1243.0,462.9 1244.1,455.6 1245.2,452.2 1246.6,458.6 1248.1,455.3 1249.5,459.8 1250.9,454.3 1252.3,459.3 1253.7,455.6 1254.8,457.8 1255.9,465.3 1257.0,469.0 1258.4,467.8 1259.8,460.4 1261.2,457.2 1262.4,456.0 1263.5,457.3 1264.6,455.6 1265.7,462.3 1266.8,465.1 1268.0,470.7 1268.8,448.0 1270.2,447.8 1271.6,451.9 1273.0,452.2 1274.4,456.6 1275.8,465.4 1277.2,470.7 1278.5,462.6 1279.7,448.8 1281.2,448.9 1282.6,450.9 1284.0,452.2 1285.1,461.8 1286.2,460.6 1287.3,467.3 1289.0,472.4 1290.4,460.4 1291.8,449.6 1293.2,440.4 1294.6,450.1 1296.0,457.3 1297.4,464.0 1298.7,450.0 1299.9,437.0 1301.3,442.2 1302.7,452.0 1304.2,457.2 1305.6,460.5 1307.0,455.4 1308.4,457.2 1309.5,450.4 1310.6,442.2 1311.7,436.2 1312.8,433.8 1314.0,441.1 1315.1,438.7 1316.2,443.7 1317.3,454.8 1318.5,460.6 1319.7,441.2 1321.0,421.9 1322.2,425.8 1323.5,424.5 1324.8,428.8 1326.0,430.3 1327.2,436.1 1328.3,442.5 1329.4,452.2 1330.5,448.0 1331.6,438.6 1332.8,436.2 1333.9,449.3"/>
<text class="tick" x="2068.0" y="1559.5" text-anchor="middle">500</text>
<text class="tick" x="1749.3" y="1559.5" text-anchor="middle">1000</text>
<text class="tick" x="1430.6" y="1559.5" text-anchor="middle">1500</text>
<text class="tick" x="1112.0" y="1559.5" text-anchor="middle">2000</text>
<text class="tick" x="793.3" y="1559.5" text-anchor="middle">2500</text>
<text class="tick" x="474.6" y="1559.5" text-anchor="middle">3000</text>
<text class="tick" x="155.9" y="1559.5" text-anchor="middle">3500</text>
<text class="title" transform="translate(711,1661) scale(1,1.025)">Wavenumber (cm<tspan font-size="62" dx="-1.9" dy="-34.4">–1</tspan><tspan dx="0.8" dy="34.4">)</tspan></text>
<text class="title" transform="translate(79.3,1027) rotate(-90) scale(1,1.045)">Transmittance (%)</text>
<line x1="151.5" y1="1203.3" x2="284" y2="1203.3" stroke="#00ac65" stroke-width="5" stroke-linecap="round"/>
<text class="leg" x="299.3" y="1223">PNZ</text>
<line x1="151.5" y1="1276.5" x2="284" y2="1276.5" stroke="#006fe0" stroke-width="5" stroke-linecap="round"/>
<text class="leg" x="299.3" y="1297.1">PIn/ZnO</text>
<line x1="151.5" y1="1348.6" x2="284" y2="1348.6" stroke="#ff3d3d" stroke-width="5" stroke-linecap="round"/>
<text class="leg" x="299.3" y="1368.9">PIn/NiO</text>
<line x1="151.5" y1="1422.4" x2="284" y2="1422.4" stroke="#4f4f4f" stroke-width="5" stroke-linecap="round"/>
<text class="leg" x="299.3" y="1442">PIn</text>
<text class="bl" style="font-size:49.1px" transform="translate(574.9,474.2) rotate(-90) scale(1,1.1)">2848</text>
<text class="bl" style="font-size:48.6px" transform="translate(1356.7,404.5) rotate(-90) scale(1,1.09)">1595</text>
<text class="bl" style="font-size:48.6px" transform="translate(1404.6,406.7) rotate(-90) scale(1,1.09)">1559</text>
<text class="bl" style="font-size:48.8px" transform="translate(1465.8,446.0) rotate(-90) scale(1,1.09)">1452</text>
<text class="bl" style="font-size:50.2px" transform="translate(1548.7,483.8) rotate(-90) scale(1,1.05)">1317–1350</text>
<text class="bl" style="font-size:49.3px" transform="translate(1666.9,496.1) rotate(-90) scale(1,1.09)">1144</text>
<text class="bl" style="font-size:49.6px" transform="translate(1714.7,584.4) rotate(-90) scale(1,1.06)">1096</text>
<text class="bl" style="font-size:49.1px" transform="translate(1757.6,565.7) rotate(-90) scale(1,1.07)">1006</text>
<text class="bl" style="font-size:46.8px" transform="translate(1920.7,566.3) rotate(-90) scale(1,1.03)">731</text>
<text class="bl" style="font-size:47.2px" transform="translate(1989.7,659.9) rotate(-90) scale(1,1.04)">613</text>
<text class="bl" style="font-size:47.2px" transform="translate(2028.5,719) rotate(-90) scale(1,1.04)">576</text>
</svg>
</body>
</html>
